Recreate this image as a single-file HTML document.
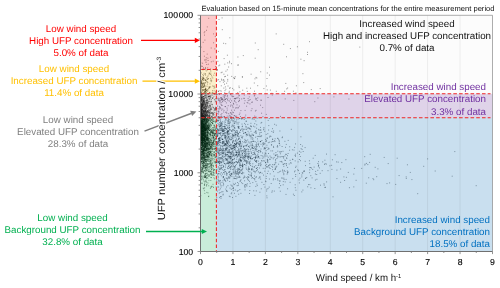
<!DOCTYPE html><html><head><meta charset="utf-8"><title>UFP vs wind speed</title><style>html,body{margin:0;padding:0;background:#fff}body{width:500px;height:288px;overflow:hidden}</style></head><body><svg width="500" height="288" viewBox="0 0 500 288" text-rendering="geometricPrecision" style="display:block;font-family:'Liberation Sans',Arial,sans-serif">
<rect width="500" height="288" fill="#fff"/>
<rect x="200.50" y="15.30" width="292.00" height="236.20" fill="#fcfcfc"/>
<path d="M200.5 141.1h.01M202.0 110.7h.01M201.8 129.7h.01M204.8 82.8h.01M202.7 144.8h.01M205.3 116.6h.01M200.8 125.1h.01M207.0 149.2h.01M202.9 100.9h.01M203.5 127.8h.01M202.9 146.7h.01M202.2 134.6h.01M201.0 105.5h.01M205.0 156.0h.01M200.6 96.9h.01M203.9 116.9h.01M207.0 139.8h.01M202.7 100.8h.01M209.8 99.7h.01M206.8 122.1h.01M209.5 133.4h.01M201.6 87.9h.01M206.7 102.6h.01M201.8 145.8h.01M201.3 130.9h.01M201.4 131.3h.01M212.7 147.2h.01M203.1 158.8h.01M200.7 107.5h.01M201.1 124.8h.01M207.9 133.4h.01M202.8 99.7h.01M205.3 143.5h.01M204.4 132.6h.01M205.7 127.5h.01M204.4 139.9h.01M200.7 128.0h.01M204.8 116.3h.01M203.3 130.2h.01M201.0 98.6h.01M201.0 141.1h.01M200.8 122.1h.01M206.5 161.7h.01M200.9 128.5h.01M207.1 148.2h.01M208.0 106.8h.01M204.7 116.6h.01M201.1 116.3h.01M203.6 90.6h.01M210.2 106.9h.01M204.2 116.6h.01M206.3 147.2h.01M200.9 154.4h.01M203.3 130.5h.01M201.4 134.0h.01M203.8 143.3h.01M200.8 131.8h.01M203.7 162.9h.01M207.5 103.3h.01M203.8 152.9h.01M201.5 140.4h.01M202.8 117.7h.01M201.1 158.5h.01M206.3 114.6h.01M203.3 110.6h.01M201.5 133.3h.01M204.9 153.1h.01M206.1 142.7h.01M206.9 170.6h.01M204.4 102.0h.01M203.6 129.4h.01M210.2 151.8h.01M202.8 147.0h.01M201.0 114.7h.01M206.6 102.0h.01M203.9 155.7h.01M202.1 139.5h.01M202.3 163.0h.01M201.7 113.8h.01M207.9 132.2h.01M202.6 78.8h.01M202.0 130.4h.01M202.2 136.9h.01M201.1 140.5h.01M201.5 109.6h.01M205.9 165.3h.01M200.6 110.2h.01M202.7 124.1h.01M206.2 143.5h.01M203.7 148.2h.01M200.6 103.7h.01M203.8 90.1h.01M202.2 137.0h.01M205.6 122.2h.01M200.5 87.9h.01M203.3 142.2h.01M206.8 139.1h.01M202.2 152.4h.01M208.7 139.0h.01M210.4 139.1h.01M202.0 136.2h.01M204.9 146.6h.01M201.3 158.1h.01M211.4 164.8h.01M204.5 150.9h.01M203.5 117.2h.01M201.5 137.3h.01M202.9 146.2h.01M201.4 113.6h.01M201.5 115.8h.01M203.9 145.7h.01M203.0 141.9h.01M205.5 119.2h.01M200.9 118.8h.01M200.7 142.3h.01M205.6 128.1h.01M201.8 128.2h.01M204.7 108.3h.01M205.2 149.6h.01M201.4 108.8h.01M200.9 117.5h.01M203.4 150.0h.01M201.1 104.4h.01M210.2 118.4h.01M206.0 159.4h.01M202.3 84.7h.01M210.9 160.6h.01M204.6 149.9h.01M209.0 142.7h.01M204.2 115.2h.01M204.6 119.7h.01M204.3 133.2h.01M201.1 97.4h.01M208.0 127.1h.01M206.6 104.0h.01M207.5 69.9h.01M200.8 122.2h.01M201.8 179.0h.01M201.3 135.9h.01M205.2 153.9h.01M205.8 131.3h.01M203.1 127.8h.01M200.7 150.4h.01M204.4 154.4h.01M203.5 135.5h.01M206.7 138.0h.01M206.6 186.0h.01M201.2 106.3h.01M205.2 131.8h.01M200.6 125.8h.01M203.9 124.7h.01M202.1 148.7h.01M203.2 130.9h.01M200.5 103.6h.01M202.3 105.6h.01M202.0 118.5h.01M207.2 140.2h.01M204.4 147.9h.01M208.5 107.4h.01M203.8 119.7h.01M205.6 141.4h.01M202.1 171.9h.01M207.3 152.3h.01M207.6 173.8h.01M201.5 100.3h.01M203.6 126.5h.01M209.1 151.4h.01M204.1 136.6h.01M200.6 65.3h.01M200.8 99.8h.01M204.2 158.3h.01M202.7 131.8h.01M203.1 154.6h.01M201.2 161.7h.01M205.9 129.6h.01M206.4 77.8h.01M207.0 99.8h.01M203.0 128.6h.01M201.9 135.5h.01M200.7 121.7h.01M202.6 106.7h.01M203.0 159.2h.01M203.6 168.4h.01M202.0 85.4h.01M201.2 121.0h.01M200.6 89.9h.01M206.2 128.7h.01M203.8 97.9h.01M202.4 141.1h.01M203.2 119.4h.01M207.2 100.0h.01M205.1 110.2h.01M205.2 141.8h.01M201.2 107.4h.01M203.1 143.3h.01M204.3 160.5h.01M204.5 120.5h.01M205.0 101.1h.01M202.7 110.8h.01M207.9 161.1h.01M206.6 115.2h.01M204.7 117.3h.01M202.9 138.8h.01M204.8 183.0h.01M209.6 114.7h.01M207.7 115.9h.01M206.1 122.9h.01M208.7 171.7h.01M204.5 162.2h.01M205.4 110.6h.01M200.6 108.3h.01M204.6 121.2h.01M208.5 140.9h.01M210.8 129.5h.01M201.8 138.8h.01M200.7 132.4h.01M201.7 145.4h.01M200.7 120.5h.01M204.7 140.4h.01M207.9 114.5h.01M201.3 111.4h.01M205.2 149.2h.01M208.5 93.7h.01M203.0 152.7h.01M200.8 116.5h.01M202.5 104.9h.01M205.3 104.0h.01M203.7 176.2h.01M205.4 110.6h.01M204.8 104.8h.01M201.5 94.8h.01M204.3 177.4h.01M202.2 142.4h.01M202.2 130.3h.01M210.4 146.7h.01M207.3 104.7h.01M204.8 146.0h.01M200.9 98.9h.01M200.6 113.6h.01M207.6 165.1h.01M202.7 149.7h.01M204.1 140.8h.01M200.9 124.2h.01M200.9 104.4h.01M201.9 131.7h.01M206.1 113.5h.01M200.6 158.4h.01M203.9 137.7h.01M210.1 127.4h.01M216.3 148.9h.01M203.1 150.6h.01M207.0 125.4h.01M200.7 81.1h.01M206.2 135.7h.01M205.1 147.3h.01M206.0 150.9h.01M201.3 81.2h.01M200.7 126.8h.01M200.8 112.8h.01M200.7 98.6h.01M204.4 107.6h.01M203.2 149.0h.01M201.5 106.3h.01M205.6 114.4h.01M203.0 119.0h.01M203.8 108.4h.01M205.8 144.8h.01M206.7 135.6h.01M201.2 137.6h.01M200.5 109.1h.01M206.9 147.9h.01M208.9 127.8h.01M207.6 157.7h.01M202.8 131.7h.01M204.3 138.7h.01M202.3 130.9h.01M213.2 136.7h.01M201.7 131.4h.01M200.8 130.6h.01M200.9 169.3h.01M205.7 108.5h.01M201.8 140.7h.01M201.4 132.1h.01M206.3 150.8h.01M202.1 106.2h.01M200.5 144.4h.01M207.9 124.5h.01M203.2 103.6h.01M202.4 91.1h.01M209.3 110.1h.01M208.1 122.2h.01M205.2 157.3h.01M205.0 103.2h.01M203.8 104.1h.01M201.0 108.1h.01M201.5 109.8h.01M201.7 125.9h.01M201.5 137.8h.01M200.8 102.0h.01M207.9 106.7h.01M203.2 151.3h.01M200.8 105.9h.01M203.3 124.7h.01M203.6 110.8h.01M208.3 129.7h.01M203.0 104.7h.01M200.8 103.3h.01M202.2 108.7h.01M205.9 161.6h.01M200.8 107.9h.01M204.8 130.6h.01M202.4 151.7h.01M201.6 111.8h.01M201.6 155.4h.01M201.0 106.6h.01M208.3 96.7h.01M201.6 137.5h.01M204.7 111.3h.01M204.8 122.0h.01M204.3 116.9h.01M203.3 157.5h.01M207.9 121.8h.01M202.0 124.9h.01M203.4 113.7h.01M201.4 126.5h.01M200.5 101.0h.01M205.3 126.3h.01M202.7 114.1h.01M210.3 106.3h.01M201.8 123.3h.01M201.5 104.9h.01M205.6 127.6h.01M202.1 116.5h.01M206.6 144.2h.01M205.9 115.9h.01M206.7 106.4h.01M204.9 133.1h.01M205.8 115.3h.01M207.9 125.6h.01M201.8 149.8h.01M203.2 121.8h.01M210.0 107.2h.01M201.5 136.5h.01M203.4 166.0h.01M207.1 129.6h.01M200.7 138.4h.01M207.7 91.0h.01M205.2 132.5h.01M205.1 131.7h.01M204.7 143.9h.01M203.0 123.6h.01M201.9 138.8h.01M201.5 145.0h.01M201.5 127.9h.01M201.9 143.8h.01M202.0 98.1h.01M200.7 149.0h.01M201.5 128.0h.01M200.9 139.6h.01M203.0 156.9h.01M209.6 98.7h.01M203.4 172.3h.01M200.8 92.9h.01M208.7 164.1h.01M202.4 126.0h.01M210.0 83.9h.01M207.4 177.4h.01M204.7 159.0h.01M203.9 101.1h.01M201.2 122.5h.01M208.8 146.6h.01M202.3 128.4h.01M203.8 149.6h.01M203.6 127.1h.01M211.5 104.3h.01M201.6 134.4h.01M204.3 127.7h.01M206.2 106.4h.01M200.8 79.9h.01M201.4 138.2h.01M206.1 126.4h.01M201.1 137.2h.01M206.1 145.8h.01M205.9 140.6h.01M205.7 145.1h.01M205.8 167.6h.01M202.8 169.0h.01M203.0 143.7h.01M201.1 123.2h.01M202.4 101.3h.01M202.2 138.3h.01M206.8 136.9h.01M207.5 120.2h.01M204.4 114.8h.01M201.4 128.7h.01M201.6 127.7h.01M205.4 89.4h.01M208.9 142.3h.01M204.3 140.5h.01M201.4 159.4h.01M202.4 118.8h.01M202.3 133.2h.01M205.5 88.6h.01M201.5 133.4h.01M206.4 115.6h.01M205.0 111.3h.01M204.4 93.8h.01M202.8 155.1h.01M209.7 101.3h.01M207.1 133.4h.01M203.4 131.5h.01M207.0 140.0h.01M202.4 135.9h.01M201.9 134.2h.01M206.0 180.0h.01M212.8 127.8h.01M201.4 125.0h.01M208.2 154.2h.01M203.7 131.0h.01M201.3 72.9h.01M208.6 127.3h.01M202.4 135.7h.01M205.3 93.4h.01M206.6 149.4h.01M205.7 135.4h.01M202.1 138.8h.01M205.6 136.9h.01M202.9 113.2h.01M202.7 116.2h.01M200.7 140.1h.01M203.1 131.6h.01M204.5 129.1h.01M202.0 135.6h.01M205.5 132.8h.01M206.8 148.1h.01M200.7 140.2h.01M204.8 130.3h.01M207.9 155.6h.01M200.5 116.2h.01M203.7 133.7h.01M205.3 150.5h.01M204.7 143.5h.01M203.0 138.6h.01M207.8 137.8h.01M204.3 128.3h.01M202.4 132.2h.01M201.6 144.3h.01M204.2 99.0h.01M203.4 110.0h.01M201.3 123.9h.01M203.4 109.1h.01M200.7 118.5h.01M205.8 137.7h.01M201.0 124.0h.01M200.8 62.9h.01M205.2 110.4h.01M204.9 109.0h.01M200.7 133.2h.01M208.9 123.0h.01M203.7 78.1h.01M205.8 123.6h.01M209.3 112.8h.01M200.8 98.1h.01M205.9 119.0h.01M207.9 99.9h.01M205.8 127.7h.01M204.1 120.1h.01M206.0 145.4h.01M202.3 66.4h.01M204.4 124.6h.01M204.0 128.0h.01M203.3 99.0h.01M204.2 140.3h.01M202.6 128.5h.01M205.2 147.6h.01M206.4 132.7h.01M209.4 143.9h.01M209.6 124.9h.01M202.1 130.1h.01M201.7 139.0h.01M200.7 131.1h.01M201.3 128.7h.01M200.7 135.7h.01M209.8 116.4h.01M205.6 118.1h.01M208.1 131.9h.01M205.4 156.0h.01M207.0 123.1h.01M204.1 156.2h.01M204.5 127.2h.01M205.2 130.8h.01M207.3 145.9h.01M202.2 144.5h.01M207.3 148.1h.01M214.2 93.3h.01M203.1 134.4h.01M205.7 136.6h.01M205.6 111.9h.01M205.7 123.8h.01M201.9 104.7h.01M207.8 159.3h.01M205.3 153.8h.01M207.2 54.1h.01M204.5 131.8h.01M202.5 134.0h.01M204.7 128.0h.01M209.7 115.3h.01M202.4 152.0h.01M200.7 119.4h.01M200.9 126.3h.01M201.0 111.7h.01M206.0 129.2h.01M200.8 136.2h.01M200.7 142.7h.01M206.8 182.4h.01M209.6 115.5h.01M201.2 155.6h.01M204.2 138.7h.01M200.8 88.9h.01M203.5 138.0h.01M204.1 117.8h.01M200.8 129.7h.01M205.6 117.7h.01M203.4 129.0h.01M201.0 136.1h.01M201.7 97.8h.01M201.4 131.8h.01M204.0 157.2h.01M205.1 138.3h.01M201.7 115.8h.01M203.2 151.5h.01M201.6 110.4h.01M200.5 109.0h.01M207.1 86.2h.01M200.8 138.4h.01M207.0 120.1h.01M203.5 163.1h.01M201.9 135.7h.01M210.6 135.0h.01M200.9 117.4h.01M201.2 127.4h.01M201.3 128.1h.01M202.6 140.6h.01M202.3 136.9h.01M205.3 125.7h.01M201.8 115.6h.01M203.2 116.0h.01M200.9 104.7h.01M206.4 107.8h.01M201.6 162.9h.01M201.2 136.6h.01M201.2 129.4h.01M202.6 141.3h.01M203.2 107.0h.01M208.6 119.8h.01M202.7 130.8h.01M201.7 124.6h.01M201.9 100.2h.01M202.4 135.0h.01M203.7 136.2h.01M201.8 108.0h.01M203.6 120.2h.01M202.6 97.7h.01M201.5 119.2h.01M207.9 119.1h.01M203.1 140.0h.01M206.2 151.7h.01M205.4 132.3h.01M201.6 179.8h.01M208.1 126.6h.01M205.1 111.2h.01M201.2 124.7h.01M212.8 143.1h.01M202.3 104.9h.01M207.8 135.5h.01M206.8 113.0h.01M203.6 80.5h.01M206.7 118.5h.01M202.3 108.2h.01M201.8 117.1h.01M209.0 130.7h.01M208.3 129.5h.01M201.0 124.5h.01M201.7 104.0h.01M206.6 165.6h.01M203.9 135.5h.01M202.6 114.7h.01M202.4 144.9h.01M201.0 128.0h.01M205.3 145.8h.01M204.3 121.7h.01M200.8 107.4h.01M204.1 99.0h.01M203.3 119.1h.01M205.7 146.7h.01M202.4 123.0h.01M202.0 115.8h.01M202.3 97.5h.01M205.4 174.7h.01M208.5 127.7h.01M203.3 165.7h.01M200.8 110.6h.01M202.0 118.4h.01M208.8 125.3h.01M202.3 109.4h.01M203.4 121.7h.01M204.7 144.1h.01M211.5 130.6h.01M202.1 102.1h.01M204.9 133.7h.01M202.4 127.5h.01M203.4 153.6h.01M200.6 100.5h.01M204.2 140.6h.01M213.9 154.2h.01M201.1 134.9h.01M203.1 146.3h.01M203.8 135.1h.01M208.8 108.3h.01M206.0 116.3h.01M202.0 96.8h.01M202.0 95.3h.01M204.3 148.5h.01M203.1 119.3h.01M200.7 92.9h.01M204.9 79.8h.01M210.0 164.7h.01M201.3 154.6h.01M200.7 115.8h.01M201.5 133.3h.01M207.0 153.6h.01M200.6 117.5h.01M207.7 150.2h.01M205.2 176.9h.01M201.4 127.0h.01M201.5 124.1h.01M204.3 117.7h.01M205.6 112.6h.01M207.8 131.1h.01M205.0 136.3h.01M202.1 141.0h.01M203.7 162.7h.01M207.9 143.5h.01M205.6 111.4h.01M202.9 115.5h.01M202.9 83.3h.01M202.8 131.8h.01M205.5 167.7h.01M201.7 109.8h.01M205.8 110.8h.01M204.9 154.8h.01M204.7 163.3h.01M201.5 123.7h.01M203.9 115.6h.01M203.8 152.4h.01M201.8 134.0h.01M205.0 147.1h.01M200.9 149.2h.01M202.2 154.1h.01M205.0 128.9h.01M203.6 137.3h.01M202.6 141.9h.01M206.4 185.1h.01M211.4 99.6h.01M210.2 155.7h.01M200.8 128.4h.01M201.6 149.5h.01M208.0 127.3h.01M201.1 156.2h.01M205.3 130.2h.01M201.1 129.9h.01M202.7 109.5h.01M204.5 153.0h.01M208.5 148.4h.01M207.5 139.2h.01M203.7 83.6h.01M204.2 160.1h.01M201.2 120.5h.01M201.5 140.0h.01M203.5 123.7h.01M202.1 114.5h.01M202.9 126.3h.01M204.8 126.4h.01M202.3 122.5h.01M205.5 144.1h.01M206.0 137.4h.01M200.6 158.4h.01M204.1 137.8h.01M202.2 143.4h.01M201.6 132.2h.01M203.9 115.3h.01M208.3 127.7h.01M205.5 123.0h.01M202.3 105.0h.01M212.8 186.4h.01M205.2 123.4h.01M201.0 126.8h.01M204.0 132.6h.01M210.5 163.3h.01M201.6 116.0h.01M202.3 104.0h.01M206.4 112.0h.01M202.9 130.9h.01M203.8 117.3h.01M203.0 110.1h.01M209.9 96.9h.01M208.8 109.9h.01M203.3 126.9h.01M203.8 128.7h.01M210.4 134.0h.01M203.6 125.7h.01M201.4 136.9h.01M202.6 112.8h.01M203.8 144.3h.01M202.2 144.1h.01M208.7 128.8h.01M202.3 139.8h.01M204.1 135.8h.01M202.1 169.3h.01M203.4 113.6h.01M202.2 128.3h.01M211.7 140.9h.01M206.4 124.3h.01M201.7 123.3h.01M205.9 147.0h.01M210.1 92.8h.01M200.6 134.6h.01M209.3 116.1h.01M204.9 91.8h.01M206.4 146.0h.01M202.9 127.5h.01M200.9 142.4h.01M210.2 115.2h.01M202.2 134.9h.01M207.9 157.0h.01M201.9 99.8h.01M201.0 107.2h.01M202.0 145.6h.01M200.9 101.0h.01M203.1 125.7h.01M203.5 67.9h.01M208.7 98.6h.01M200.6 136.7h.01M209.5 142.0h.01M210.1 154.6h.01M206.9 131.6h.01M203.9 129.8h.01M203.8 115.4h.01M207.5 133.2h.01M200.8 155.2h.01M200.8 142.2h.01M201.9 97.5h.01M200.9 101.9h.01M202.6 132.1h.01M200.9 128.9h.01M205.8 136.4h.01M202.3 128.1h.01M211.6 171.7h.01M200.8 107.4h.01M201.7 140.5h.01M203.1 126.7h.01M203.9 181.0h.01M205.9 128.5h.01M201.5 98.7h.01M205.0 176.5h.01M201.8 95.0h.01M201.1 116.9h.01M208.1 150.0h.01M203.8 162.1h.01M200.9 101.6h.01M203.0 124.3h.01M207.8 123.0h.01M210.0 142.5h.01M203.8 146.4h.01M203.1 111.5h.01M203.7 149.5h.01M203.5 111.3h.01M207.3 167.9h.01M208.2 153.9h.01M204.2 159.9h.01M201.9 100.0h.01M203.7 165.3h.01M203.1 152.3h.01M205.0 118.5h.01M210.6 133.0h.01M202.3 79.5h.01M207.8 94.7h.01M203.7 117.7h.01M202.3 114.3h.01M202.0 164.3h.01M208.2 153.1h.01M201.5 133.7h.01M208.0 138.9h.01M204.2 158.5h.01M205.0 150.6h.01M206.4 150.6h.01M202.6 106.6h.01M203.6 121.7h.01M210.1 143.9h.01M203.9 136.2h.01M201.0 120.6h.01M202.2 142.3h.01M201.0 131.7h.01M203.6 164.6h.01M200.7 112.0h.01M206.5 113.7h.01M202.6 121.5h.01M202.4 118.9h.01M202.5 121.4h.01M207.6 89.7h.01M201.3 122.8h.01M201.8 154.0h.01M201.5 148.1h.01M207.1 119.8h.01M208.5 113.3h.01M201.0 110.4h.01M206.4 116.3h.01M208.8 132.4h.01M201.9 157.5h.01M200.9 140.4h.01M204.0 166.9h.01M200.9 134.0h.01M203.6 157.6h.01M203.2 127.9h.01M204.0 134.4h.01M200.7 164.7h.01M205.3 117.3h.01M213.0 123.6h.01M205.4 160.4h.01M202.8 126.4h.01M204.6 116.9h.01M204.3 137.2h.01M206.1 115.6h.01M202.9 125.6h.01M200.6 103.2h.01M205.3 128.8h.01M205.2 135.8h.01M202.8 118.9h.01M210.7 121.6h.01M207.5 130.0h.01M202.5 137.9h.01M201.2 142.7h.01M201.4 134.7h.01M209.1 148.1h.01M202.8 125.2h.01M204.4 128.2h.01M203.2 131.7h.01M200.9 126.5h.01M204.8 128.7h.01M203.6 96.5h.01M203.3 104.5h.01M206.2 145.3h.01M204.4 123.1h.01M207.5 141.8h.01M201.6 129.6h.01M206.1 138.6h.01M202.8 142.1h.01M205.1 159.8h.01M203.4 179.7h.01M201.3 123.1h.01M212.6 114.2h.01M204.2 149.7h.01M202.9 119.4h.01M200.9 134.3h.01M202.1 122.8h.01M206.4 150.2h.01M202.9 134.3h.01M209.0 138.9h.01M201.9 175.8h.01M200.6 121.7h.01M201.0 129.6h.01M206.9 184.4h.01M202.0 115.0h.01M204.5 132.6h.01M205.9 129.4h.01M204.7 124.9h.01M210.7 146.5h.01M204.3 153.2h.01M201.7 137.0h.01M201.2 135.8h.01M209.2 86.7h.01M205.0 91.7h.01M201.0 136.7h.01M202.7 137.9h.01M204.1 124.9h.01M202.6 117.8h.01M202.0 142.4h.01M201.9 148.4h.01M201.1 83.9h.01M201.1 104.7h.01M206.1 165.1h.01M200.6 161.7h.01M204.8 149.0h.01M205.2 128.5h.01M201.7 116.7h.01M203.7 137.9h.01M205.7 166.1h.01M201.4 123.1h.01M205.7 121.0h.01M206.0 133.9h.01M211.8 149.1h.01M210.3 126.1h.01M201.6 129.1h.01M204.1 154.2h.01M201.1 125.2h.01M201.0 153.1h.01M208.0 115.6h.01M206.9 125.2h.01M205.6 153.6h.01M200.7 122.2h.01M207.4 108.4h.01M201.4 171.0h.01M203.8 134.0h.01M201.8 92.1h.01M204.1 163.0h.01M200.7 129.8h.01M202.9 158.8h.01M203.0 131.6h.01M210.9 187.1h.01M204.9 165.5h.01M203.9 142.3h.01M201.2 124.6h.01M200.8 118.9h.01M205.5 124.6h.01M202.7 105.0h.01M203.9 116.8h.01M201.4 112.2h.01M206.3 154.1h.01M207.3 138.5h.01M206.3 57.8h.01M203.6 79.0h.01M205.9 116.2h.01M206.6 119.0h.01M201.0 105.8h.01M206.8 143.0h.01M202.2 84.7h.01M205.0 140.5h.01M206.3 135.9h.01M202.6 79.7h.01M202.5 171.8h.01M204.0 124.0h.01M203.6 166.1h.01M202.2 142.3h.01M200.7 128.3h.01M203.1 137.5h.01M202.9 126.4h.01M200.8 142.4h.01M200.6 128.5h.01M203.3 154.7h.01M202.6 137.4h.01M205.9 162.2h.01M201.5 114.0h.01M204.8 159.0h.01M206.3 119.6h.01M203.4 139.1h.01M211.6 145.2h.01M204.5 106.4h.01M204.4 129.9h.01M202.0 167.5h.01M209.5 126.9h.01M208.8 196.2h.01M210.0 132.2h.01M205.2 141.3h.01M203.7 159.9h.01M204.3 130.3h.01M204.1 138.0h.01M200.8 80.8h.01M202.7 138.7h.01M203.7 86.8h.01M200.9 96.2h.01M205.5 145.9h.01M211.5 155.7h.01M203.6 101.8h.01M205.5 136.2h.01M205.2 129.7h.01M201.6 133.3h.01M204.8 157.5h.01M202.3 136.8h.01M204.9 152.5h.01M204.9 164.2h.01M208.1 142.2h.01M200.6 85.8h.01M202.9 93.6h.01M205.5 134.6h.01M201.2 124.5h.01M205.6 122.6h.01M200.6 96.1h.01M201.0 120.3h.01M203.3 140.4h.01M205.7 141.6h.01M202.2 104.0h.01M201.7 66.2h.01M201.3 140.4h.01M200.9 169.2h.01M204.9 115.1h.01M205.5 135.0h.01M202.4 126.4h.01M202.8 102.4h.01M204.5 130.8h.01M202.2 156.4h.01M202.4 169.9h.01M202.5 130.5h.01M210.3 162.0h.01M202.3 123.0h.01M209.1 163.4h.01M205.2 140.3h.01M203.7 161.6h.01M202.4 136.7h.01M202.6 138.8h.01M200.8 113.9h.01M200.7 96.6h.01M201.9 132.3h.01M209.3 155.0h.01M201.6 82.9h.01M211.3 131.1h.01M202.3 116.0h.01M204.0 118.5h.01M204.0 98.8h.01M201.6 105.8h.01M201.8 113.8h.01M207.5 118.9h.01M209.0 154.7h.01M205.7 146.1h.01M210.4 140.3h.01M205.2 131.0h.01M208.2 135.8h.01M205.6 127.0h.01M203.7 130.4h.01M207.2 144.0h.01M202.0 162.2h.01M202.1 110.5h.01M200.8 114.0h.01M203.3 148.7h.01M209.0 126.3h.01M201.4 119.3h.01M201.1 125.6h.01M205.2 171.1h.01M203.3 155.5h.01M201.7 140.5h.01M204.5 95.5h.01M200.7 144.2h.01M209.0 144.0h.01M210.2 160.8h.01M201.9 138.7h.01M204.8 125.2h.01M202.2 171.9h.01M204.4 190.7h.01M201.8 114.0h.01M207.2 134.4h.01M201.1 139.6h.01M212.4 118.3h.01M206.1 112.7h.01M205.9 177.2h.01M204.8 135.9h.01M202.5 104.8h.01M205.4 147.0h.01M204.5 138.6h.01M203.9 110.4h.01M204.8 138.0h.01M204.7 157.2h.01M202.3 143.3h.01M205.9 161.3h.01M208.0 124.1h.01M203.9 167.1h.01M211.4 116.8h.01M204.1 165.8h.01M203.6 129.9h.01M202.8 160.3h.01M209.6 143.9h.01M206.2 111.6h.01M206.1 109.2h.01M204.7 103.2h.01M206.1 135.9h.01M204.1 129.4h.01M205.1 128.0h.01M201.0 113.8h.01M208.3 144.5h.01M207.7 111.3h.01M212.2 132.5h.01M205.9 108.4h.01M201.8 118.1h.01M201.6 113.3h.01M201.3 142.6h.01M201.8 136.9h.01M201.5 154.7h.01M206.0 140.0h.01M210.9 142.1h.01M200.5 107.9h.01M204.0 157.6h.01M201.1 47.1h.01M201.6 130.4h.01M204.9 104.6h.01M203.6 108.0h.01M204.4 184.3h.01M202.2 134.3h.01M203.8 98.0h.01M210.4 188.4h.01M211.7 122.4h.01M207.6 154.6h.01M202.0 138.2h.01M212.7 135.0h.01M204.3 170.6h.01M201.6 123.8h.01M201.5 141.2h.01M203.1 145.9h.01M201.5 112.7h.01M203.2 42.3h.01M204.1 124.4h.01M202.4 117.4h.01M202.6 130.6h.01M206.4 149.3h.01M200.7 121.1h.01M204.9 98.2h.01M201.4 123.6h.01M205.6 114.0h.01M202.3 133.8h.01M203.0 69.9h.01M202.2 163.3h.01M200.8 114.1h.01M201.1 115.6h.01M202.0 123.0h.01M204.2 155.0h.01M205.8 157.4h.01M207.0 139.9h.01M200.7 124.4h.01M204.1 156.9h.01M202.9 152.2h.01M203.8 119.3h.01M201.3 104.8h.01M204.0 143.2h.01M206.1 148.6h.01M204.3 147.1h.01M211.6 80.1h.01M204.1 121.2h.01M210.3 139.5h.01M200.7 104.5h.01M205.7 79.5h.01M203.7 105.2h.01M207.0 164.8h.01M204.2 133.7h.01M209.2 145.6h.01M202.1 136.0h.01M200.5 151.6h.01M205.6 141.8h.01M212.4 162.3h.01M206.8 127.8h.01M201.2 126.5h.01M202.2 158.6h.01M203.5 166.6h.01M203.5 141.0h.01M205.7 119.7h.01M200.8 116.2h.01M205.1 134.5h.01M200.8 195.7h.01M201.0 137.5h.01M211.9 154.8h.01M204.6 139.5h.01M201.1 152.8h.01M201.3 136.7h.01M202.6 143.7h.01M205.6 68.2h.01M202.9 115.0h.01M204.5 136.4h.01M208.5 137.7h.01M205.0 135.5h.01M203.1 126.6h.01M200.7 135.2h.01M205.4 133.9h.01M202.3 106.7h.01M200.7 108.5h.01M203.0 123.8h.01M203.4 101.0h.01M201.7 123.7h.01M209.3 157.9h.01M206.1 170.7h.01M208.4 151.1h.01M211.1 140.2h.01M202.1 120.6h.01M201.6 104.4h.01M202.3 141.3h.01M204.4 149.1h.01M200.8 110.1h.01M200.5 100.2h.01M200.9 137.0h.01M209.6 130.5h.01M201.2 96.7h.01M204.7 125.8h.01M203.2 131.7h.01M201.6 171.6h.01M203.6 101.5h.01M204.9 118.9h.01M202.9 127.6h.01M205.0 142.7h.01M206.2 160.4h.01M206.0 136.3h.01M207.3 137.7h.01M201.2 103.3h.01M201.3 153.1h.01M204.5 99.9h.01M207.2 134.6h.01M201.5 101.7h.01M203.1 150.7h.01M202.3 122.0h.01M209.0 109.9h.01M204.8 130.4h.01M200.6 157.2h.01M204.8 139.7h.01M205.3 121.9h.01M200.9 156.2h.01M201.4 158.0h.01M204.5 127.5h.01M202.5 149.4h.01M201.7 113.7h.01M203.4 155.5h.01M209.0 175.4h.01M200.7 142.8h.01M207.8 102.3h.01M204.7 150.6h.01M207.6 135.9h.01M206.3 129.3h.01M206.9 154.8h.01M201.6 104.1h.01M207.9 132.4h.01M203.7 121.8h.01M206.6 169.9h.01M202.3 165.7h.01M203.8 188.8h.01M202.1 133.0h.01M201.9 133.4h.01M203.6 115.5h.01M206.3 100.8h.01M206.4 139.8h.01M206.3 140.0h.01M207.1 125.7h.01M203.7 96.7h.01M208.0 153.3h.01M201.1 114.0h.01M202.0 134.0h.01M202.4 136.3h.01M204.9 115.1h.01M202.3 145.6h.01M205.0 155.2h.01M207.5 121.4h.01M203.7 131.8h.01M201.6 133.6h.01M205.0 135.7h.01M205.7 123.1h.01M202.2 136.7h.01M212.5 123.2h.01M203.8 122.6h.01M202.7 96.4h.01M205.3 105.0h.01M201.5 109.2h.01M206.3 138.6h.01M202.9 127.6h.01M206.0 146.4h.01M210.4 69.0h.01M202.7 134.4h.01M206.5 122.7h.01M201.7 97.8h.01M202.6 158.0h.01M203.9 148.7h.01M204.3 140.3h.01M202.9 150.7h.01M205.0 159.2h.01M201.4 138.5h.01M204.3 103.1h.01M203.6 115.4h.01M202.1 128.2h.01M201.0 126.4h.01M214.2 175.4h.01M203.9 116.5h.01M207.2 126.3h.01M200.8 149.2h.01M201.1 122.9h.01M204.0 135.6h.01M204.9 143.4h.01M206.7 155.3h.01M202.1 142.9h.01M203.4 150.4h.01M203.1 120.5h.01M203.0 122.4h.01M203.3 123.8h.01M207.3 139.1h.01M202.5 138.0h.01M205.7 86.1h.01M207.9 174.6h.01M201.3 101.0h.01M207.7 128.3h.01M206.2 132.8h.01M207.5 146.1h.01M208.2 140.8h.01M204.6 157.0h.01M206.5 163.3h.01M203.4 133.0h.01M208.8 171.2h.01M205.4 115.0h.01M201.0 102.4h.01M200.9 159.1h.01M201.4 121.9h.01M203.1 125.8h.01M200.7 124.1h.01M208.3 127.3h.01M208.8 120.5h.01M201.8 109.4h.01M204.9 91.6h.01M201.4 127.1h.01M204.6 113.4h.01M200.8 160.3h.01M204.3 134.5h.01M208.2 161.5h.01M205.9 102.5h.01M203.4 75.5h.01M203.5 119.2h.01M201.4 154.6h.01M213.1 142.3h.01M204.2 131.1h.01M201.6 123.7h.01M208.1 111.9h.01M201.9 107.5h.01M201.8 183.2h.01M207.4 104.6h.01M207.5 145.7h.01M209.3 148.7h.01M200.6 94.4h.01M201.6 133.4h.01M208.4 164.7h.01M204.8 160.0h.01M213.7 139.1h.01M204.0 111.5h.01M206.7 100.6h.01M203.1 133.8h.01M205.3 142.7h.01M207.0 98.0h.01M206.5 143.9h.01M201.5 94.9h.01M201.9 123.4h.01M204.8 127.4h.01M202.5 134.2h.01M202.4 122.8h.01M204.2 141.3h.01M206.8 148.8h.01M200.8 129.3h.01M204.0 144.8h.01M206.9 128.3h.01M206.7 132.7h.01M202.9 135.3h.01M209.5 141.4h.01M207.1 139.7h.01M208.5 96.5h.01M201.4 127.7h.01M202.5 141.6h.01M210.3 144.0h.01M207.8 121.4h.01M203.8 135.3h.01M204.9 135.7h.01M201.6 133.1h.01M202.1 125.2h.01M208.8 128.3h.01M202.1 119.3h.01M206.1 167.9h.01M206.9 157.0h.01M202.1 183.3h.01M202.0 111.1h.01M207.2 110.6h.01M205.3 104.0h.01M203.1 127.2h.01M203.3 105.0h.01M203.6 131.7h.01M203.5 133.3h.01M203.3 162.4h.01M209.2 153.2h.01M202.0 140.9h.01M202.5 109.2h.01M203.3 92.6h.01M210.9 148.1h.01M201.9 120.4h.01M204.2 125.8h.01M208.2 152.1h.01M211.2 174.3h.01M213.2 155.7h.01M206.0 163.7h.01M205.2 139.4h.01M206.5 137.3h.01M205.3 136.8h.01M201.2 130.8h.01M206.2 123.7h.01M203.5 150.2h.01M204.0 112.0h.01M212.8 174.5h.01M214.3 139.4h.01M203.9 123.1h.01M209.3 153.6h.01M204.9 165.7h.01M207.6 121.9h.01M208.2 150.1h.01M208.1 119.1h.01M200.6 109.6h.01M206.4 134.4h.01M201.4 127.6h.01M211.2 117.0h.01M208.8 128.7h.01M200.9 146.2h.01M205.3 129.6h.01M201.3 115.6h.01M201.0 122.8h.01M209.9 133.7h.01M206.8 137.8h.01M200.7 128.9h.01M206.4 153.7h.01M204.3 161.5h.01M202.1 104.0h.01M204.9 145.8h.01M206.5 129.8h.01M201.9 159.5h.01M206.9 131.6h.01M201.1 144.2h.01M208.4 64.2h.01M204.2 152.8h.01M201.6 147.9h.01M204.9 112.0h.01M206.1 108.9h.01M206.5 178.0h.01M207.6 130.2h.01M212.0 120.2h.01M202.9 155.2h.01M204.0 116.8h.01M203.9 142.3h.01M202.1 149.4h.01M204.4 139.2h.01M201.9 138.0h.01M201.9 157.1h.01M203.5 78.5h.01M203.3 140.0h.01M202.5 144.8h.01M208.9 118.3h.01M202.7 131.1h.01M207.4 105.8h.01M201.2 132.9h.01M205.2 125.6h.01M201.0 125.1h.01M202.7 126.2h.01M207.4 139.7h.01M204.5 134.2h.01M205.1 94.9h.01M204.1 145.7h.01M208.8 148.0h.01M204.6 139.4h.01M202.2 116.8h.01M207.6 127.2h.01M207.9 115.6h.01M207.8 163.4h.01M203.7 125.7h.01M214.0 144.3h.01M213.4 146.2h.01M208.2 132.8h.01M205.5 174.0h.01M201.3 121.8h.01M201.5 124.9h.01M201.0 156.4h.01M207.7 137.7h.01M203.8 96.5h.01M202.8 137.8h.01M201.6 115.4h.01M206.3 138.9h.01M200.9 143.5h.01M211.9 158.2h.01M204.0 139.7h.01M201.8 99.5h.01M209.8 120.0h.01M206.6 149.1h.01M207.0 113.2h.01M205.1 135.5h.01M203.1 144.5h.01M200.8 117.6h.01M205.6 152.2h.01M202.2 161.2h.01M203.0 101.5h.01M202.9 167.5h.01M204.2 120.2h.01M203.7 162.4h.01M203.3 131.1h.01M204.9 136.7h.01M201.9 137.5h.01M201.0 171.9h.01M205.5 135.6h.01M213.4 141.0h.01M204.6 150.7h.01M200.7 127.8h.01M201.3 106.0h.01M204.7 147.1h.01M204.9 127.3h.01M205.4 156.8h.01M202.4 121.2h.01M202.6 115.9h.01M204.1 73.3h.01M202.4 109.7h.01M201.5 118.6h.01M206.4 103.1h.01M208.5 156.8h.01M203.0 106.7h.01M209.2 148.2h.01M204.4 144.6h.01M207.7 111.8h.01M201.7 123.2h.01M204.0 102.1h.01M213.7 170.0h.01M206.5 128.7h.01M206.2 144.8h.01M208.8 142.1h.01M202.5 168.4h.01M204.2 111.4h.01M206.7 130.2h.01M203.8 151.2h.01M202.5 156.9h.01M204.8 150.2h.01M203.9 100.2h.01M203.6 132.8h.01M201.2 134.0h.01M201.2 116.8h.01M202.8 129.3h.01M207.6 130.5h.01M210.4 122.0h.01M206.3 127.1h.01M204.1 112.5h.01M202.3 153.2h.01M200.9 125.3h.01M203.2 137.4h.01M202.6 127.0h.01M208.9 137.3h.01M204.2 144.4h.01M215.0 148.1h.01M209.7 116.8h.01M205.5 144.2h.01M202.3 154.2h.01M201.1 114.2h.01M207.3 114.0h.01M206.4 139.5h.01M201.3 124.5h.01M207.8 152.5h.01M201.5 131.5h.01M202.6 105.1h.01M201.1 109.6h.01M202.7 126.2h.01M208.2 141.3h.01M205.0 165.5h.01M204.9 125.6h.01M206.8 124.7h.01M203.8 108.0h.01M201.0 80.6h.01M213.4 131.9h.01M200.5 105.1h.01M205.8 155.9h.01M202.7 102.9h.01M208.2 117.0h.01M206.1 103.5h.01M205.8 118.8h.01M207.7 125.7h.01M201.1 93.8h.01M208.2 149.1h.01M202.1 114.6h.01M204.9 108.6h.01M200.8 142.0h.01M206.7 157.4h.01M205.2 123.3h.01M200.5 122.9h.01M200.7 113.1h.01M201.1 112.8h.01M203.4 145.5h.01M210.2 130.2h.01M200.5 101.0h.01M206.2 140.5h.01M202.9 135.0h.01M204.1 153.8h.01M203.7 112.9h.01M201.2 82.4h.01M203.8 158.2h.01M200.6 109.4h.01M208.9 116.7h.01M207.0 145.5h.01M204.5 138.8h.01M202.9 150.3h.01M202.4 144.2h.01M206.6 130.3h.01M203.8 116.5h.01M200.6 123.0h.01M211.1 119.5h.01M203.8 126.2h.01M202.3 151.8h.01M204.2 98.8h.01M202.5 102.8h.01M204.8 145.9h.01M200.9 86.1h.01M201.3 116.8h.01M210.3 134.4h.01M201.4 83.3h.01M201.9 178.1h.01M202.7 161.2h.01M208.7 120.6h.01M202.3 133.0h.01M200.7 144.6h.01M201.0 92.7h.01M206.2 122.9h.01M203.7 155.8h.01M206.6 146.9h.01M201.6 108.9h.01M207.0 93.9h.01M204.0 170.9h.01M203.1 123.9h.01M205.9 140.4h.01M202.4 163.5h.01M202.0 130.8h.01M201.6 159.3h.01M205.7 143.4h.01M211.5 101.8h.01M204.6 120.4h.01M205.5 115.6h.01M205.9 120.0h.01M204.8 123.9h.01M204.7 110.3h.01M202.0 151.0h.01M204.9 138.7h.01M201.1 107.7h.01M202.5 142.9h.01M204.1 139.3h.01M201.2 99.7h.01M208.7 101.3h.01M202.1 139.8h.01M203.7 146.3h.01M200.8 113.1h.01M205.1 125.9h.01M201.8 140.7h.01M204.8 118.6h.01M204.6 119.2h.01M201.5 124.9h.01M206.0 62.4h.01M203.0 98.8h.01M201.4 108.9h.01M205.6 109.9h.01M204.6 60.0h.01M203.0 105.0h.01M211.1 151.8h.01M202.5 121.3h.01M203.1 127.3h.01M203.2 140.6h.01M201.3 120.7h.01M203.7 124.4h.01M201.4 127.4h.01M210.5 146.6h.01M201.5 108.7h.01M207.5 166.5h.01M201.8 109.3h.01M203.4 129.1h.01M207.5 128.4h.01M201.1 174.0h.01M200.8 87.6h.01M201.7 161.8h.01M211.0 154.6h.01M204.8 117.4h.01M202.4 140.1h.01M202.6 136.4h.01M201.7 172.1h.01M201.6 135.4h.01M202.5 123.5h.01M206.7 118.8h.01M205.0 137.1h.01M201.9 122.5h.01M201.2 116.7h.01M202.3 141.3h.01M203.3 144.3h.01M204.6 86.0h.01M200.8 142.4h.01M206.2 105.7h.01M205.6 130.5h.01M207.9 101.7h.01M204.6 143.8h.01M202.7 117.3h.01M204.3 123.5h.01M207.6 138.7h.01M208.9 128.8h.01M206.8 148.9h.01M202.5 129.5h.01M202.1 135.4h.01M203.0 112.3h.01M201.0 127.3h.01M210.9 165.3h.01M202.9 136.0h.01M207.4 135.9h.01M203.7 148.0h.01M202.5 98.5h.01M206.1 124.0h.01M207.2 115.5h.01M205.4 147.3h.01M200.6 132.8h.01M203.4 107.2h.01M203.2 158.1h.01M205.3 123.9h.01M204.4 128.6h.01M205.0 141.4h.01M202.7 126.3h.01M210.4 158.5h.01M206.5 128.3h.01M202.9 153.2h.01M204.3 156.4h.01M202.2 96.3h.01M205.5 146.1h.01M202.2 170.5h.01M205.6 110.8h.01M201.2 141.5h.01M206.6 134.2h.01M201.0 105.4h.01M207.5 126.6h.01M201.3 87.1h.01M200.9 127.9h.01M205.0 118.5h.01M201.9 147.5h.01M204.3 126.9h.01M206.9 99.1h.01M203.7 118.8h.01M202.2 124.0h.01M201.9 167.2h.01M211.2 144.9h.01M201.0 151.8h.01M203.7 112.8h.01M204.2 145.3h.01M200.9 117.7h.01M212.1 158.2h.01M203.8 86.6h.01M203.7 153.5h.01M204.7 128.0h.01M209.5 73.3h.01M203.9 125.3h.01M201.7 144.4h.01M204.4 117.4h.01M205.0 109.6h.01M203.5 110.4h.01M211.4 177.6h.01M204.5 126.1h.01M203.9 173.4h.01M201.8 83.4h.01M205.5 130.3h.01M206.3 142.1h.01M208.9 120.8h.01M203.9 119.5h.01M208.9 159.5h.01M206.2 95.9h.01M205.9 137.2h.01M204.5 166.6h.01M206.1 101.2h.01M204.7 96.3h.01M201.3 98.1h.01M207.2 121.9h.01M207.4 152.1h.01M205.3 111.1h.01M203.8 87.0h.01M211.6 119.7h.01M200.9 88.9h.01M203.6 145.3h.01M204.4 108.0h.01M209.3 115.1h.01M202.9 158.9h.01M206.4 166.2h.01M202.3 142.3h.01M207.2 131.8h.01M202.9 118.7h.01M204.3 134.8h.01M205.4 133.0h.01M201.2 128.0h.01M205.9 130.3h.01M202.3 115.0h.01M204.2 119.5h.01M201.9 128.0h.01M201.0 119.9h.01M206.1 141.6h.01M204.0 112.5h.01M208.1 144.8h.01M202.5 90.3h.01M204.9 131.4h.01M202.7 122.2h.01M205.5 147.3h.01M203.2 135.8h.01M205.1 127.8h.01M205.0 130.7h.01M205.7 144.7h.01M211.0 160.8h.01M205.5 130.8h.01M204.0 126.6h.01M202.0 115.1h.01M207.3 105.8h.01M207.0 139.7h.01M206.1 173.5h.01M202.3 130.3h.01M202.3 165.5h.01M211.7 163.9h.01M204.2 107.3h.01M206.3 120.3h.01M205.7 145.1h.01M203.8 142.6h.01M200.9 126.9h.01M208.0 170.5h.01M209.5 125.3h.01M204.7 137.9h.01M201.7 84.0h.01M201.5 147.9h.01M207.4 111.5h.01M202.7 142.1h.01M205.4 109.0h.01M204.1 150.1h.01M206.0 116.2h.01M204.2 139.1h.01M202.3 144.3h.01M209.7 138.9h.01M202.0 116.7h.01M201.0 116.7h.01M211.4 101.2h.01M202.3 109.3h.01M204.5 184.9h.01M204.1 138.1h.01M206.3 173.7h.01M206.0 140.1h.01M206.4 119.1h.01M203.3 156.4h.01M203.6 153.6h.01M201.4 122.8h.01M200.6 130.4h.01M205.3 95.2h.01M203.3 121.9h.01M210.4 124.9h.01M202.6 87.5h.01M202.5 137.9h.01M201.8 126.6h.01M202.0 147.4h.01M206.5 127.2h.01M203.4 105.9h.01M201.4 95.0h.01M203.7 130.0h.01M207.2 148.1h.01M206.3 148.3h.01M202.3 156.1h.01M205.2 128.6h.01M200.8 94.2h.01M205.7 180.9h.01M205.5 176.7h.01M208.1 102.5h.01M201.9 160.1h.01M205.8 124.8h.01M205.5 157.6h.01M202.0 109.7h.01M206.0 114.9h.01M200.6 120.8h.01M206.3 114.3h.01M204.6 129.3h.01M204.0 117.4h.01M203.0 85.9h.01M202.4 102.9h.01M201.6 139.8h.01M201.6 142.7h.01M205.3 136.2h.01M203.0 132.9h.01M208.9 133.4h.01M201.0 137.6h.01M205.3 117.0h.01M200.9 124.1h.01M201.7 118.4h.01M210.4 135.9h.01M202.0 113.3h.01M206.7 157.5h.01M204.0 93.3h.01M202.0 119.3h.01M211.0 126.8h.01M201.5 112.5h.01M205.0 106.7h.01M205.4 115.1h.01M202.2 121.9h.01M203.8 132.9h.01M209.3 169.2h.01M203.9 124.7h.01M203.4 135.1h.01M202.0 133.0h.01M205.5 73.6h.01M200.6 162.8h.01M201.8 125.0h.01M211.8 109.8h.01M203.4 107.3h.01M203.1 100.2h.01M202.6 153.8h.01M207.0 152.8h.01M207.7 120.1h.01M201.8 132.3h.01M205.4 91.5h.01M207.4 128.3h.01M203.0 123.8h.01M204.5 120.4h.01M201.7 131.5h.01M200.8 121.9h.01M200.9 138.6h.01M200.5 124.6h.01M205.9 141.6h.01M201.1 119.4h.01M201.2 154.6h.01M201.8 157.1h.01M202.2 116.6h.01M204.9 125.4h.01M202.9 147.7h.01M200.8 129.0h.01M203.3 149.9h.01M201.1 76.8h.01M203.5 160.9h.01M210.3 96.0h.01M207.0 149.7h.01M202.7 118.2h.01M200.8 129.7h.01M211.2 144.2h.01M202.1 105.6h.01M200.9 106.5h.01M202.0 132.2h.01M202.0 145.1h.01M207.4 84.1h.01M200.6 91.9h.01M210.7 132.9h.01M204.8 136.3h.01M203.9 122.6h.01M205.4 129.0h.01M209.3 107.8h.01M202.1 146.4h.01M200.8 123.7h.01M205.0 146.6h.01M206.6 102.5h.01M205.9 89.4h.01M202.2 128.4h.01M207.3 121.1h.01M201.2 92.8h.01M201.0 130.7h.01M202.2 145.9h.01M203.8 105.6h.01M202.4 115.8h.01M204.1 133.5h.01M203.1 94.4h.01M207.9 128.3h.01M209.9 172.2h.01M201.1 117.2h.01M202.5 128.2h.01M202.9 83.6h.01M205.1 130.8h.01M201.2 129.2h.01M205.6 121.5h.01M203.9 123.6h.01M201.0 153.7h.01M201.3 122.4h.01M202.3 133.4h.01M201.7 93.7h.01M208.1 75.9h.01M203.4 151.4h.01M201.9 146.0h.01M201.2 142.4h.01M205.3 144.2h.01M206.4 146.2h.01M205.8 130.0h.01M204.3 105.0h.01M208.0 160.5h.01M207.4 164.9h.01M204.1 167.4h.01M206.2 106.9h.01M203.6 98.3h.01M202.9 159.4h.01M208.2 167.6h.01M200.7 121.1h.01M206.7 107.7h.01M206.4 109.2h.01M205.0 126.0h.01M203.8 113.8h.01M200.8 117.2h.01M203.6 139.9h.01M204.5 84.9h.01M202.1 126.3h.01M200.7 147.1h.01M204.5 139.3h.01M209.0 166.4h.01M203.7 128.1h.01M205.9 106.7h.01M200.5 149.9h.01M204.0 103.6h.01M202.8 77.8h.01M209.4 126.5h.01M207.2 156.7h.01M203.1 145.5h.01M200.9 131.3h.01M206.7 158.8h.01M201.7 151.6h.01M201.2 130.2h.01M213.7 141.6h.01M201.0 111.2h.01M210.7 160.7h.01M203.8 84.9h.01M201.0 100.8h.01M206.6 112.3h.01M204.7 143.4h.01M202.3 86.1h.01M202.2 133.4h.01M201.3 82.6h.01M204.8 106.0h.01M204.3 148.0h.01M203.1 137.2h.01M202.9 83.7h.01M207.2 110.3h.01M204.3 132.6h.01M203.7 124.1h.01M208.4 129.5h.01M200.8 140.2h.01M204.0 133.1h.01M202.3 140.3h.01M201.7 134.4h.01M205.9 121.2h.01M206.9 152.2h.01M205.9 115.2h.01M201.6 123.1h.01M209.0 117.6h.01M205.6 111.2h.01M205.3 102.3h.01M208.8 120.4h.01M201.9 110.4h.01M206.6 135.7h.01M203.5 115.8h.01M201.4 143.9h.01M200.5 128.7h.01M202.6 110.4h.01M207.9 134.4h.01M205.1 120.6h.01M206.9 154.3h.01M206.1 100.3h.01M207.1 144.5h.01M202.2 117.8h.01M203.7 129.0h.01M212.0 116.0h.01M204.4 137.4h.01M201.3 145.7h.01M202.8 166.8h.01M210.8 142.2h.01M201.2 149.6h.01M204.2 117.5h.01M201.0 91.4h.01M205.6 177.2h.01M204.2 156.1h.01M202.4 120.0h.01M203.2 99.9h.01M202.7 120.5h.01M208.6 127.0h.01M204.7 118.8h.01M204.4 116.9h.01M203.1 89.6h.01M202.9 113.9h.01M207.6 158.9h.01M200.6 133.6h.01M209.5 130.3h.01M205.1 147.3h.01M201.7 131.1h.01M207.2 143.6h.01M202.2 141.0h.01M203.0 112.3h.01M207.6 141.1h.01M203.7 151.4h.01M200.5 138.5h.01M202.2 125.6h.01M204.1 78.8h.01M206.3 126.1h.01M200.8 90.0h.01M208.9 123.5h.01M201.0 169.4h.01M200.6 115.6h.01M203.7 146.3h.01M205.4 159.0h.01M207.2 155.2h.01M209.6 93.0h.01M207.0 165.5h.01M208.1 146.5h.01M203.4 102.0h.01M202.3 111.9h.01M206.1 167.3h.01M205.6 133.2h.01M208.9 145.1h.01M205.0 134.4h.01M202.0 109.4h.01M205.6 143.0h.01M202.1 133.0h.01M210.2 101.8h.01M203.3 166.5h.01M203.1 135.6h.01M206.6 121.8h.01M210.7 161.9h.01M204.1 142.2h.01M211.2 163.7h.01M201.1 121.3h.01M201.2 137.8h.01M209.8 117.7h.01M202.1 103.4h.01M200.6 122.7h.01M203.4 136.1h.01M208.2 128.1h.01M200.8 122.9h.01M205.6 156.4h.01M203.0 103.5h.01M201.9 121.2h.01M200.9 106.8h.01M200.6 152.4h.01M205.0 110.7h.01M206.4 81.7h.01M207.2 119.2h.01M206.2 162.0h.01M205.1 129.7h.01M201.0 125.7h.01M204.2 124.6h.01M201.6 130.4h.01M202.8 116.6h.01M204.1 138.9h.01M201.9 121.1h.01M205.3 145.1h.01M203.2 125.9h.01M201.6 103.3h.01M208.1 144.0h.01M204.2 114.6h.01M201.2 143.6h.01M202.5 134.8h.01M206.2 136.6h.01M203.9 100.5h.01M214.2 154.4h.01M200.7 96.3h.01M207.6 163.9h.01M205.7 134.5h.01M212.6 116.9h.01M203.0 112.4h.01M200.9 145.5h.01M201.7 151.5h.01M202.2 107.0h.01M203.6 155.1h.01M206.8 119.6h.01M205.3 141.7h.01M208.1 134.0h.01M205.0 74.5h.01M201.8 90.1h.01M206.1 113.0h.01M204.0 158.0h.01M205.1 123.5h.01M203.9 127.9h.01M202.8 129.5h.01M200.7 93.6h.01M206.1 167.8h.01M206.8 125.5h.01M202.8 124.7h.01M203.5 144.2h.01M203.2 87.6h.01M202.8 154.1h.01M207.9 132.9h.01M202.9 125.9h.01M204.7 176.1h.01M203.2 158.2h.01M209.2 155.2h.01M209.7 117.7h.01M206.7 111.2h.01M201.8 112.9h.01M201.9 120.9h.01M205.2 177.0h.01M209.6 130.5h.01M202.4 137.7h.01M203.8 102.4h.01M202.9 96.8h.01M207.7 79.5h.01M207.5 117.5h.01M201.8 107.9h.01M201.7 147.6h.01M204.0 127.5h.01M204.3 155.7h.01M206.0 111.6h.01M203.1 153.2h.01M200.5 128.4h.01M201.4 142.6h.01M207.4 143.0h.01M201.8 116.1h.01M204.8 142.2h.01M201.3 120.5h.01M209.6 156.3h.01M203.5 96.5h.01M202.0 140.0h.01M208.4 111.3h.01M207.4 81.9h.01M208.7 185.8h.01M204.0 150.2h.01M204.2 133.9h.01M200.8 97.8h.01M203.5 138.9h.01M200.9 116.5h.01M207.3 148.5h.01M203.8 116.7h.01M202.2 152.3h.01M204.4 111.2h.01M204.8 193.4h.01M205.5 171.1h.01M206.0 88.8h.01M207.3 129.4h.01M207.4 152.1h.01M202.8 74.5h.01M213.0 114.0h.01M205.3 105.3h.01M205.1 139.7h.01M201.7 112.3h.01M205.9 120.5h.01M201.8 161.3h.01M201.6 112.8h.01M203.9 133.1h.01M209.9 106.0h.01M209.8 105.4h.01M202.4 140.7h.01M202.1 139.5h.01M203.3 124.3h.01M201.2 110.7h.01M204.8 139.1h.01M201.2 127.8h.01M202.5 113.8h.01M203.9 120.0h.01M210.4 109.4h.01M207.7 128.4h.01M211.6 155.7h.01M205.3 168.4h.01M205.4 113.0h.01M207.4 140.4h.01M201.1 132.5h.01M204.5 136.2h.01M203.4 162.0h.01M205.2 139.3h.01M204.4 185.3h.01M201.1 133.7h.01M209.8 154.6h.01M201.3 81.7h.01M200.9 115.0h.01M203.9 133.9h.01M204.0 126.0h.01M209.7 119.1h.01M206.4 148.4h.01M205.6 136.4h.01M204.4 137.6h.01M206.3 70.9h.01M210.7 134.8h.01M202.1 168.7h.01M204.0 111.6h.01M202.6 63.2h.01M205.7 152.0h.01M204.9 40.1h.01M207.6 134.9h.01M207.4 110.6h.01M200.8 136.8h.01M203.6 134.8h.01M204.1 156.0h.01M208.1 156.6h.01M205.6 177.3h.01M206.2 105.9h.01M202.3 151.7h.01M204.2 121.7h.01M201.0 117.8h.01M201.5 139.8h.01M205.3 130.2h.01M208.3 136.3h.01M205.1 141.5h.01M207.6 132.6h.01M210.1 134.8h.01M203.7 151.0h.01M206.3 160.0h.01M203.0 146.4h.01M200.9 122.3h.01M201.9 94.2h.01M205.8 97.2h.01M205.3 124.4h.01M201.0 103.5h.01M202.1 124.2h.01M205.7 106.2h.01M202.4 124.6h.01M201.8 117.7h.01M205.5 137.6h.01M200.5 124.4h.01M202.0 81.0h.01M201.1 151.1h.01M201.3 125.7h.01M203.8 142.0h.01M202.5 105.5h.01M204.1 86.3h.01M203.6 135.9h.01M206.8 192.4h.01M208.7 121.1h.01M202.4 113.6h.01M202.5 163.8h.01M201.3 131.0h.01M202.7 129.3h.01M203.0 178.0h.01M204.3 114.9h.01M201.4 116.1h.01M206.2 127.1h.01M207.0 156.0h.01M205.4 146.7h.01M203.3 142.4h.01M204.5 119.8h.01M204.1 151.0h.01M206.0 97.6h.01M201.6 117.8h.01M204.4 177.2h.01M202.3 87.1h.01M204.2 126.6h.01M201.4 137.9h.01M201.4 123.7h.01M200.7 164.1h.01M203.2 124.6h.01M201.0 147.3h.01M209.7 104.0h.01M201.7 97.0h.01M206.0 139.6h.01M201.8 147.6h.01M202.4 106.2h.01M201.4 127.1h.01M201.1 121.0h.01M203.2 114.6h.01M203.3 152.2h.01M205.0 113.1h.01M206.3 178.3h.01M200.6 90.0h.01M205.2 165.3h.01M201.7 140.2h.01M200.9 139.6h.01M201.3 109.4h.01M202.8 111.2h.01M204.5 122.6h.01M201.7 114.4h.01M203.8 119.2h.01M204.3 131.9h.01M208.6 176.4h.01M201.9 176.8h.01M201.9 176.8h.01M207.6 135.2h.01M205.8 137.2h.01M203.1 131.8h.01M202.4 122.9h.01M212.0 142.9h.01M202.4 149.5h.01M203.2 161.5h.01M201.3 167.3h.01M207.4 105.5h.01M207.0 112.7h.01M202.5 157.3h.01M202.4 133.8h.01M201.7 116.9h.01M206.2 94.6h.01M207.5 147.2h.01M202.1 123.6h.01M207.6 107.2h.01M204.9 168.9h.01M206.1 148.6h.01M214.3 140.3h.01M204.8 146.8h.01M203.4 77.2h.01M204.7 111.2h.01M217.3 136.1h.01M203.4 150.2h.01M201.4 106.4h.01M205.2 117.4h.01M203.5 140.7h.01M203.4 138.8h.01M201.5 158.4h.01M203.7 131.5h.01M207.5 114.4h.01M205.7 109.1h.01M202.7 115.4h.01M207.3 115.1h.01M208.4 147.9h.01M206.8 143.8h.01M204.2 102.3h.01M206.3 123.0h.01M201.3 143.6h.01M201.6 115.6h.01M200.9 106.6h.01M201.4 110.4h.01M203.0 126.6h.01M202.4 139.3h.01M204.7 122.2h.01M201.7 86.1h.01M201.9 124.1h.01M201.0 140.4h.01M202.6 120.9h.01M204.5 157.7h.01M201.8 122.1h.01M201.9 133.9h.01M202.4 106.0h.01M207.7 132.3h.01M204.9 107.2h.01M205.6 75.2h.01M203.8 134.8h.01M202.5 146.4h.01M208.6 125.1h.01M205.1 133.7h.01M203.0 125.9h.01M204.5 144.1h.01M206.3 120.6h.01M204.1 129.0h.01M201.7 173.8h.01M202.4 133.2h.01M202.6 121.0h.01M202.0 100.1h.01M204.2 143.1h.01M200.6 142.6h.01M203.3 102.8h.01M200.7 138.6h.01M202.7 126.4h.01M205.8 122.1h.01M201.3 109.7h.01M202.2 127.7h.01M201.8 151.2h.01M204.2 107.5h.01M203.1 138.6h.01M212.6 149.9h.01M202.0 78.6h.01M202.1 107.7h.01M202.3 151.0h.01M213.0 149.3h.01M201.1 131.4h.01M203.9 146.6h.01M207.2 175.6h.01M201.7 108.9h.01M204.3 113.2h.01M201.6 121.5h.01M201.3 135.2h.01M203.2 124.8h.01M200.8 111.2h.01M207.1 156.6h.01M201.6 134.1h.01M204.3 142.9h.01M210.1 121.1h.01M203.9 124.7h.01M201.8 155.4h.01M206.3 146.5h.01M205.5 89.9h.01M208.6 156.5h.01M205.8 129.4h.01M201.1 139.7h.01M201.8 98.2h.01M201.4 128.0h.01M202.0 137.0h.01M201.5 152.2h.01M204.3 136.2h.01M210.7 118.6h.01M203.8 115.1h.01M210.4 165.6h.01M200.8 88.8h.01M200.5 130.5h.01M208.7 158.4h.01M203.8 127.6h.01M204.7 144.9h.01M201.0 138.5h.01M208.6 149.3h.01M209.6 138.5h.01M206.4 144.2h.01M205.5 169.3h.01M202.6 117.1h.01M202.5 139.8h.01M205.0 104.2h.01M204.0 118.7h.01M203.4 116.0h.01M204.5 127.3h.01M204.2 100.7h.01M201.0 133.2h.01M207.6 156.1h.01M205.6 125.0h.01M203.3 188.2h.01M200.8 133.8h.01M202.4 123.7h.01M209.7 145.6h.01M204.3 101.9h.01M203.2 113.8h.01M200.7 123.1h.01M203.4 138.4h.01M205.0 106.8h.01M200.8 140.4h.01M200.6 134.4h.01M200.6 108.6h.01M203.9 117.3h.01M202.8 79.8h.01M206.0 137.7h.01M202.7 169.4h.01M201.2 111.9h.01M200.7 96.6h.01M203.0 132.9h.01M205.4 95.8h.01M205.1 89.6h.01M202.3 142.7h.01M204.8 142.0h.01M201.1 153.3h.01M206.6 121.8h.01M200.6 109.5h.01M210.6 124.0h.01M207.0 160.7h.01M201.0 142.7h.01M206.2 164.1h.01M201.5 161.6h.01M204.8 160.7h.01M210.7 171.6h.01M202.9 133.2h.01M208.1 126.1h.01M203.2 115.7h.01M202.4 129.0h.01M209.8 151.3h.01M205.6 133.0h.01M211.4 125.5h.01M200.8 132.4h.01M202.2 127.1h.01M202.5 135.3h.01M210.9 149.1h.01M202.6 128.1h.01M208.6 159.9h.01M209.8 112.9h.01M206.2 167.0h.01M203.3 119.7h.01M211.9 167.8h.01M202.6 93.6h.01M201.4 107.4h.01M205.9 150.5h.01M203.1 139.2h.01M203.4 154.2h.01M204.0 132.1h.01M203.0 120.5h.01M209.2 73.1h.01M210.4 166.7h.01M202.2 99.7h.01M203.5 142.6h.01M202.1 122.3h.01M208.1 115.6h.01M207.1 122.5h.01M202.9 120.1h.01M203.0 133.8h.01M200.8 126.3h.01M206.0 130.0h.01M202.8 101.7h.01M202.9 160.8h.01M203.4 140.6h.01M205.8 159.7h.01M201.6 148.0h.01M205.1 149.3h.01M205.7 107.9h.01M202.7 77.2h.01M200.6 94.3h.01M207.0 159.7h.01M201.1 124.9h.01M204.2 155.5h.01M203.9 121.0h.01M201.1 97.2h.01M204.5 118.5h.01M205.0 112.6h.01M204.0 134.1h.01M203.4 172.2h.01M206.2 175.9h.01M202.0 130.1h.01M202.0 115.3h.01M201.1 97.3h.01M204.2 138.6h.01M202.6 127.4h.01M201.3 121.3h.01M207.9 111.1h.01M207.8 136.7h.01M201.8 151.0h.01M208.3 111.0h.01M200.7 116.9h.01M202.4 120.2h.01M204.8 159.1h.01M201.9 128.1h.01M212.3 175.6h.01M201.7 170.4h.01M206.3 138.8h.01M206.9 143.5h.01M202.5 116.3h.01M202.0 94.5h.01M215.1 141.4h.01M205.4 90.2h.01M204.5 144.1h.01M204.4 114.4h.01M205.3 159.5h.01M208.7 133.3h.01M200.7 132.7h.01M205.1 136.7h.01M204.1 118.0h.01M202.2 168.6h.01M205.6 130.4h.01M202.4 146.0h.01M207.0 131.9h.01M202.3 119.8h.01M201.4 135.0h.01M204.5 139.5h.01M202.6 153.6h.01M202.5 116.6h.01M208.1 149.9h.01M205.9 123.5h.01M209.1 166.8h.01M207.9 103.6h.01M201.6 149.2h.01M203.5 103.8h.01M203.6 139.9h.01M206.5 121.8h.01M202.1 131.2h.01M201.2 111.6h.01M204.4 131.3h.01M203.6 101.2h.01M206.2 118.6h.01M205.4 117.5h.01M205.9 93.9h.01M202.3 143.4h.01M203.5 100.2h.01M202.5 127.2h.01M201.0 158.0h.01M204.6 121.1h.01M206.6 138.3h.01M201.1 86.8h.01M201.3 137.3h.01M205.9 132.2h.01M201.5 122.2h.01M200.7 166.5h.01M202.5 117.6h.01M202.4 149.9h.01M207.4 102.2h.01M200.8 86.8h.01M202.6 129.1h.01M201.9 161.6h.01M205.7 129.1h.01M206.3 129.9h.01M207.8 119.2h.01M201.7 133.8h.01M202.7 154.5h.01M210.8 140.8h.01M203.5 150.0h.01M204.8 90.0h.01M204.4 146.5h.01M204.6 145.6h.01M207.7 136.1h.01M213.2 165.9h.01M202.1 137.7h.01M204.0 133.8h.01M203.2 140.3h.01M209.3 141.9h.01M201.9 99.4h.01M206.4 124.3h.01M205.5 161.3h.01M207.3 143.8h.01M207.4 118.2h.01M207.7 148.9h.01M203.0 127.8h.01M201.6 128.0h.01M201.3 115.3h.01M203.8 134.5h.01M208.0 138.4h.01M203.7 148.8h.01M203.0 121.6h.01M202.3 148.3h.01M205.6 92.0h.01M203.0 129.9h.01M204.1 135.8h.01M206.2 115.9h.01M203.0 131.3h.01M211.1 136.2h.01M203.0 130.7h.01M201.1 142.1h.01M204.8 151.6h.01M205.2 147.2h.01M203.5 104.5h.01M208.4 149.1h.01M202.9 138.1h.01M206.3 143.2h.01M204.5 116.1h.01M203.2 82.4h.01M201.9 147.6h.01M204.4 119.4h.01M215.8 138.5h.01M204.3 137.7h.01M204.0 119.8h.01M204.9 159.0h.01M203.6 111.8h.01M205.7 128.2h.01M203.1 150.9h.01M205.8 95.9h.01M203.7 111.5h.01M201.5 100.7h.01M205.4 163.6h.01M207.4 140.6h.01M207.1 145.6h.01M202.7 115.3h.01M200.8 94.8h.01M205.5 173.3h.01M205.6 132.4h.01M202.2 131.0h.01M203.8 108.0h.01M207.5 135.8h.01M211.6 165.5h.01M206.3 137.8h.01M201.5 149.3h.01M206.2 150.0h.01M202.3 127.7h.01M204.2 141.4h.01M246.4 145.6h.01M218.5 180.0h.01M211.1 81.7h.01M218.4 111.2h.01M238.4 133.5h.01M290.1 182.3h.01M294.3 195.5h.01M242.3 169.1h.01M208.1 140.4h.01M244.4 103.2h.01M260.7 129.9h.01M230.4 159.2h.01M242.0 124.1h.01M277.6 138.3h.01M219.6 142.6h.01M205.3 104.7h.01M240.6 142.8h.01M210.1 151.2h.01M275.3 179.1h.01M217.1 144.8h.01M238.4 127.3h.01M216.7 170.4h.01M209.7 171.1h.01M223.2 131.3h.01M232.4 105.9h.01M202.9 138.7h.01M212.1 122.5h.01M222.2 99.0h.01M210.3 168.2h.01M230.0 171.3h.01M239.4 100.2h.01M211.3 144.2h.01M289.2 164.0h.01M260.1 150.5h.01M272.6 139.2h.01M295.5 143.9h.01M222.6 141.6h.01M242.2 157.7h.01M224.0 145.7h.01M215.0 134.1h.01M247.8 124.4h.01M257.5 151.6h.01M257.1 118.2h.01M283.8 174.7h.01M232.4 135.5h.01M206.0 92.0h.01M258.7 129.4h.01M215.1 133.5h.01M254.0 171.2h.01M214.1 155.3h.01M255.4 156.9h.01M214.7 133.7h.01M275.2 163.0h.01M211.4 169.2h.01M242.6 166.5h.01M215.4 129.5h.01M212.0 120.0h.01M216.2 171.1h.01M248.5 159.6h.01M211.6 173.9h.01M205.6 144.9h.01M214.8 48.9h.01M219.6 141.4h.01M208.1 142.8h.01M226.2 159.6h.01M258.9 178.2h.01M256.3 190.9h.01M227.4 147.1h.01M208.5 141.7h.01M268.6 130.0h.01M246.9 186.1h.01M220.5 132.8h.01M253.5 126.2h.01M222.9 191.7h.01M240.9 135.7h.01M213.6 174.0h.01M233.3 136.0h.01M271.8 131.4h.01M225.7 145.6h.01M210.7 131.5h.01M202.5 143.5h.01M204.1 124.7h.01M213.6 114.0h.01M223.7 149.1h.01M242.5 153.5h.01M235.8 139.9h.01M216.8 121.1h.01M230.9 185.0h.01M225.6 144.0h.01M231.7 163.2h.01M218.2 130.1h.01M246.4 129.6h.01M216.5 134.7h.01M244.6 123.4h.01M326.6 181.9h.01M270.2 164.8h.01M251.6 173.0h.01M235.7 147.3h.01M248.3 150.0h.01M222.2 148.9h.01M210.3 163.1h.01M231.1 149.0h.01M260.0 163.4h.01M206.6 120.6h.01M214.3 146.0h.01M229.2 119.5h.01M253.2 148.5h.01M253.7 190.8h.01M249.7 155.9h.01M218.3 177.8h.01M241.5 129.1h.01M300.6 144.5h.01M233.1 148.5h.01M236.5 138.9h.01M271.2 183.5h.01M213.5 187.5h.01M267.5 166.9h.01M223.0 150.6h.01M220.2 180.4h.01M219.0 140.5h.01M250.0 145.9h.01M217.3 125.8h.01M245.8 118.4h.01M227.9 127.1h.01M225.7 154.2h.01M234.5 145.9h.01M227.2 131.8h.01M240.2 172.8h.01M230.6 116.3h.01M253.2 134.9h.01M208.4 140.5h.01M239.8 163.7h.01M238.5 65.0h.01M209.7 118.0h.01M233.2 126.4h.01M235.5 108.0h.01M204.4 109.2h.01M205.9 128.7h.01M226.5 129.0h.01M233.9 168.8h.01M203.1 113.7h.01M213.6 172.5h.01M217.6 131.4h.01M222.3 130.6h.01M218.6 181.0h.01M233.7 104.2h.01M238.5 174.8h.01M254.3 132.3h.01M210.1 148.3h.01M225.3 137.7h.01M242.8 164.6h.01M252.2 101.9h.01M251.0 131.3h.01M206.2 90.4h.01M207.6 117.3h.01M225.5 128.5h.01M219.1 138.7h.01M309.7 169.9h.01M227.1 131.3h.01M286.8 158.6h.01M229.4 149.9h.01M241.0 179.8h.01M243.8 157.0h.01M228.6 131.9h.01M215.9 150.8h.01M224.7 136.3h.01M275.5 160.8h.01M207.7 156.6h.01M214.7 159.3h.01M227.2 163.0h.01M231.3 153.6h.01M228.4 152.1h.01M202.5 102.9h.01M237.7 172.9h.01M207.8 178.3h.01M220.5 126.0h.01M240.4 159.4h.01M238.8 151.6h.01M260.5 105.2h.01M230.7 112.6h.01M266.9 145.2h.01M211.5 116.4h.01M235.1 145.2h.01M220.4 119.2h.01M222.4 158.4h.01M254.2 167.3h.01M298.4 170.6h.01M364.7 156.7h.01M239.3 114.6h.01M201.0 138.8h.01M231.4 119.9h.01M207.7 137.9h.01M222.6 117.5h.01M221.0 150.7h.01M229.5 123.7h.01M252.6 154.7h.01M242.1 155.9h.01M257.8 154.2h.01M207.9 131.2h.01M266.8 166.8h.01M229.7 178.0h.01M228.2 105.7h.01M221.1 152.5h.01M302.9 190.1h.01M216.7 197.6h.01M215.0 199.7h.01M246.7 163.8h.01M228.6 113.7h.01M210.3 171.5h.01M236.1 155.2h.01M214.6 178.9h.01M250.6 129.0h.01M207.6 126.3h.01M229.7 138.4h.01M225.6 112.3h.01M254.1 119.4h.01M228.1 121.1h.01M240.8 161.9h.01M228.8 176.8h.01M221.3 168.4h.01M211.5 175.0h.01M238.0 108.1h.01M228.7 150.1h.01M265.8 153.2h.01M216.7 136.5h.01M230.3 99.0h.01M238.7 161.1h.01M218.7 112.2h.01M221.9 135.6h.01M222.8 147.1h.01M237.3 191.2h.01M279.4 143.4h.01M240.4 165.4h.01M207.4 143.8h.01M213.4 133.8h.01M226.9 142.7h.01M246.0 126.6h.01M232.7 162.3h.01M243.7 146.4h.01M215.2 133.8h.01M328.0 170.7h.01M222.5 126.7h.01M207.1 139.1h.01M228.8 117.2h.01M287.5 172.2h.01M212.9 169.2h.01M242.8 150.6h.01M238.9 122.3h.01M276.4 167.1h.01M235.5 161.9h.01M251.1 159.0h.01M235.0 143.7h.01M239.7 152.7h.01M213.3 131.9h.01M211.0 173.8h.01M233.4 112.6h.01M228.0 131.5h.01M231.2 166.3h.01M263.9 129.0h.01M209.1 125.6h.01M227.3 110.1h.01M260.1 177.0h.01M209.5 96.5h.01M212.8 137.3h.01M204.8 175.1h.01M243.5 133.5h.01M238.4 155.2h.01M207.1 155.3h.01M259.8 158.2h.01M219.1 190.0h.01M221.3 128.4h.01M239.0 153.4h.01M247.9 156.7h.01M212.3 104.9h.01M233.3 146.2h.01M226.0 160.4h.01M270.2 173.9h.01M215.0 141.1h.01M269.6 137.0h.01M205.0 143.7h.01M242.5 172.2h.01M274.9 141.6h.01M244.4 148.8h.01M265.8 156.0h.01M255.4 111.0h.01M207.5 160.0h.01M216.7 136.4h.01M261.3 188.8h.01M233.7 154.0h.01M225.1 130.2h.01M270.9 136.4h.01M239.1 176.9h.01M210.2 117.6h.01M229.6 127.5h.01M220.2 145.3h.01M212.0 76.9h.01M223.0 143.5h.01M219.5 163.8h.01M227.2 134.9h.01M225.8 189.1h.01M221.0 104.3h.01M218.9 117.1h.01M227.5 154.6h.01M224.1 129.1h.01M227.4 132.4h.01M226.5 98.6h.01M213.6 152.1h.01M231.8 176.4h.01M210.8 180.5h.01M240.1 155.5h.01M280.6 185.6h.01M225.4 148.6h.01M229.0 136.0h.01M304.5 171.2h.01M225.5 167.1h.01M210.8 109.4h.01M236.5 152.4h.01M212.8 133.3h.01M243.8 129.4h.01M209.4 163.7h.01M229.9 167.5h.01M233.8 89.9h.01M258.8 156.9h.01M237.0 171.5h.01M210.4 142.1h.01M232.4 160.0h.01M229.6 174.7h.01M274.1 164.9h.01M220.2 142.8h.01M222.9 143.8h.01M237.7 136.2h.01M223.1 185.7h.01M211.5 169.5h.01M215.2 122.1h.01M230.3 156.4h.01M227.2 116.1h.01M212.5 131.5h.01M223.1 177.8h.01M229.1 133.1h.01M203.5 151.0h.01M206.8 127.6h.01M203.7 101.2h.01M205.4 80.5h.01M231.9 148.2h.01M230.0 129.7h.01M204.6 124.3h.01M243.9 132.9h.01M227.7 154.4h.01M235.4 141.0h.01M235.9 137.1h.01M216.5 156.8h.01M271.3 142.0h.01M212.6 112.9h.01M219.6 140.3h.01M202.1 132.2h.01M245.4 158.0h.01M216.2 137.4h.01M278.0 138.4h.01M273.6 131.0h.01M202.6 138.2h.01M223.6 166.2h.01M226.6 163.7h.01M219.1 117.4h.01M212.3 133.2h.01M220.6 135.1h.01M227.6 133.8h.01M225.5 135.5h.01M221.5 145.9h.01M235.2 171.2h.01M221.9 158.1h.01M265.1 153.1h.01M214.0 130.5h.01M225.3 153.2h.01M237.0 157.4h.01M239.6 118.6h.01M266.6 164.4h.01M217.1 135.2h.01M250.6 158.3h.01M225.6 165.0h.01M204.5 163.0h.01M247.1 162.1h.01M208.5 152.5h.01M217.8 120.1h.01M237.2 173.8h.01M216.9 151.0h.01M212.5 123.6h.01M237.8 150.8h.01M251.6 141.8h.01M216.3 121.7h.01M220.2 183.0h.01M234.7 156.8h.01M227.6 167.8h.01M221.6 110.1h.01M281.6 161.4h.01M220.8 130.4h.01M212.7 98.2h.01M219.4 150.7h.01M234.0 145.5h.01M214.9 130.8h.01M211.9 143.4h.01M206.6 104.2h.01M292.4 149.8h.01M238.6 126.4h.01M209.6 135.0h.01M237.0 155.7h.01M235.3 155.6h.01M256.7 160.5h.01M211.8 172.5h.01M256.7 146.1h.01M245.1 133.0h.01M209.7 136.3h.01M229.7 157.4h.01M230.6 145.3h.01M232.6 141.7h.01M203.0 121.6h.01M231.1 105.0h.01M219.5 163.0h.01M245.5 142.7h.01M230.2 130.1h.01M216.5 139.0h.01M211.5 142.4h.01M221.2 167.6h.01M231.7 160.2h.01M224.9 127.5h.01M207.6 100.6h.01M270.1 168.5h.01M246.0 140.6h.01M227.3 133.0h.01M230.1 122.8h.01M238.3 143.1h.01M230.9 136.2h.01M222.4 121.8h.01M254.5 176.0h.01M223.2 142.5h.01M221.0 185.4h.01M227.2 191.3h.01M224.3 163.6h.01M229.7 181.5h.01M361.7 168.4h.01M217.8 116.8h.01M236.3 154.8h.01M247.1 153.8h.01M207.3 138.8h.01M221.6 149.3h.01M206.9 130.6h.01M215.0 132.3h.01M207.1 143.4h.01M230.2 164.2h.01M216.5 151.6h.01M251.3 135.8h.01M221.0 152.9h.01M219.5 106.8h.01M216.4 145.7h.01M213.4 107.7h.01M251.5 176.2h.01M208.2 149.4h.01M257.0 144.2h.01M222.5 131.7h.01M208.8 138.7h.01M227.9 98.1h.01M215.8 138.8h.01M215.3 133.9h.01M258.8 164.9h.01M239.9 113.1h.01M201.2 107.1h.01M222.2 133.4h.01M222.0 182.4h.01M217.8 132.4h.01M269.4 164.9h.01M212.7 130.0h.01M212.9 118.4h.01M228.6 163.0h.01M253.8 148.4h.01M207.2 114.5h.01M222.1 139.4h.01M220.3 150.5h.01M239.5 171.9h.01M299.5 173.4h.01M244.9 177.0h.01M218.0 117.4h.01M213.6 136.9h.01M201.6 152.1h.01M226.9 145.3h.01M246.7 177.6h.01M216.8 111.2h.01M270.1 136.0h.01M209.6 167.0h.01M252.7 166.8h.01M236.4 143.6h.01M216.3 148.7h.01M251.8 169.4h.01M210.2 147.4h.01M212.4 143.3h.01M233.0 159.5h.01M283.0 156.6h.01M247.3 155.8h.01M215.4 156.1h.01M274.1 157.4h.01M310.9 187.8h.01M232.0 114.3h.01M227.9 185.7h.01M211.0 139.1h.01M210.7 129.9h.01M207.4 125.3h.01M211.2 132.0h.01M206.0 104.3h.01M220.3 169.6h.01M213.9 140.8h.01M218.7 138.3h.01M234.5 158.7h.01M210.3 149.2h.01M214.1 110.5h.01M227.7 161.9h.01M309.6 172.7h.01M246.1 156.6h.01M203.7 134.3h.01M241.1 146.1h.01M236.4 152.8h.01M220.5 133.8h.01M212.4 135.5h.01M232.7 136.4h.01M282.1 137.7h.01M249.5 168.9h.01M219.9 102.9h.01M219.7 153.2h.01M237.7 134.2h.01M235.9 144.6h.01M264.6 161.0h.01M226.4 190.6h.01M221.7 105.1h.01M215.9 156.3h.01M219.2 161.2h.01M214.8 116.5h.01M213.4 137.6h.01M205.4 88.1h.01M215.3 101.8h.01M236.1 132.7h.01M255.8 148.5h.01M224.2 126.5h.01M280.1 181.0h.01M268.5 153.5h.01M203.3 126.4h.01M229.5 157.0h.01M228.7 140.2h.01M240.3 180.6h.01M257.3 136.4h.01M218.9 111.2h.01M251.8 178.2h.01M204.3 127.8h.01M240.5 116.5h.01M208.9 126.9h.01M208.8 157.0h.01M248.6 171.6h.01M214.9 121.5h.01M240.9 110.6h.01M224.5 169.9h.01M232.1 146.2h.01M219.4 161.0h.01M205.2 137.8h.01M261.0 149.0h.01M261.1 155.6h.01M228.7 161.6h.01M224.3 95.4h.01M214.2 143.0h.01M211.7 141.8h.01M211.4 113.3h.01M207.8 134.5h.01M223.6 148.9h.01M259.8 136.6h.01M218.3 166.8h.01M236.4 132.1h.01M237.9 126.6h.01M214.2 125.5h.01M242.4 153.8h.01M225.0 144.9h.01M269.2 187.1h.01M263.8 157.8h.01M221.6 136.6h.01M221.7 123.0h.01M279.0 156.9h.01M211.9 146.3h.01M287.1 174.1h.01M262.4 156.0h.01M218.5 138.8h.01M224.6 116.6h.01M248.9 151.6h.01M209.8 146.9h.01M211.4 140.1h.01M249.1 161.5h.01M233.9 152.9h.01M235.9 196.3h.01M324.9 187.4h.01M231.7 173.7h.01M218.7 131.0h.01M253.7 154.5h.01M241.1 146.6h.01M218.3 114.1h.01M211.9 159.7h.01M237.0 123.9h.01M219.3 133.3h.01M213.8 154.2h.01M215.6 107.2h.01M265.9 181.7h.01M223.3 170.4h.01M231.9 151.8h.01M207.1 125.6h.01M208.2 139.1h.01M204.7 175.3h.01M228.8 152.9h.01M215.7 142.4h.01M203.1 69.0h.01M305.1 147.6h.01M227.9 143.0h.01M213.9 162.0h.01M253.1 146.1h.01M236.1 173.7h.01M234.7 143.5h.01M270.9 150.9h.01M222.7 153.3h.01M245.5 145.8h.01M212.5 145.5h.01M210.0 148.5h.01M210.8 103.0h.01M232.4 134.4h.01M227.2 152.6h.01M217.6 160.1h.01M235.9 144.5h.01M256.6 142.9h.01M207.6 116.2h.01M241.6 118.9h.01M250.9 143.1h.01M234.1 172.4h.01M239.4 106.1h.01M221.3 116.1h.01M209.3 118.3h.01M256.6 128.2h.01M213.8 170.2h.01M240.4 157.5h.01M268.7 165.8h.01M255.9 130.7h.01M231.2 173.3h.01M231.3 154.2h.01M256.7 124.8h.01M263.7 143.7h.01M211.2 145.7h.01M207.0 91.2h.01M234.1 177.0h.01M240.4 140.0h.01M227.6 151.0h.01M228.4 134.5h.01M219.2 149.0h.01M231.7 165.7h.01M206.2 128.9h.01M238.7 177.3h.01M250.9 141.8h.01M239.3 156.1h.01M211.2 117.8h.01M218.9 153.0h.01M232.4 162.2h.01M224.5 135.5h.01M232.1 120.0h.01M234.5 193.3h.01M211.2 135.4h.01M237.2 135.3h.01M309.8 184.6h.01M219.7 163.7h.01M214.6 126.4h.01M233.5 165.9h.01M230.1 161.0h.01M252.2 119.0h.01M241.9 169.8h.01M253.0 169.8h.01M219.6 197.6h.01M251.3 174.1h.01M244.3 176.1h.01M261.0 123.1h.01M266.2 134.4h.01M213.4 165.3h.01M211.7 93.2h.01M218.0 123.6h.01M267.3 159.7h.01M234.1 130.3h.01M207.5 126.7h.01M223.2 162.1h.01M206.6 169.8h.01M295.6 176.4h.01M240.7 149.9h.01M209.6 144.0h.01M236.4 164.6h.01M324.9 160.2h.01M237.5 171.8h.01M208.0 116.0h.01M220.4 154.6h.01M244.8 148.7h.01M282.8 178.1h.01M247.1 151.7h.01M242.6 166.6h.01M210.8 173.4h.01M245.2 151.4h.01M275.6 159.4h.01M213.7 121.8h.01M213.5 133.6h.01M213.1 160.1h.01M236.5 161.9h.01M283.9 178.2h.01M267.8 133.7h.01M244.2 119.5h.01M235.3 131.8h.01M206.8 127.8h.01M222.8 130.5h.01M227.7 135.0h.01M279.2 187.7h.01M228.5 166.0h.01M260.0 132.6h.01M238.3 124.0h.01M244.1 145.8h.01M220.0 150.4h.01M207.4 142.5h.01M249.7 163.1h.01M258.4 171.9h.01M204.3 170.7h.01M218.6 138.9h.01M225.9 155.8h.01M245.7 155.6h.01M208.8 97.2h.01M300.3 156.5h.01M224.0 161.0h.01M239.0 137.0h.01M227.6 180.2h.01M261.6 135.7h.01M246.8 146.1h.01M257.9 157.9h.01M221.0 130.0h.01M236.7 117.3h.01M244.6 160.5h.01M315.4 180.0h.01M251.2 110.7h.01M228.6 146.0h.01M273.3 132.5h.01M217.8 158.2h.01M239.1 141.4h.01M237.4 162.8h.01M220.7 128.4h.01M224.0 151.2h.01M240.2 164.0h.01M206.3 98.7h.01M231.3 139.6h.01M203.5 171.9h.01M202.9 134.1h.01M255.8 171.4h.01M226.8 173.7h.01M246.8 163.4h.01M236.7 159.2h.01M267.1 156.0h.01M224.6 163.4h.01M218.6 187.0h.01M222.3 156.7h.01M203.7 111.4h.01M247.8 179.5h.01M204.0 117.6h.01M238.3 139.4h.01M246.0 160.5h.01M209.3 130.0h.01M210.3 152.8h.01M208.1 143.7h.01M212.1 159.8h.01M221.0 132.6h.01M215.2 110.1h.01M218.3 158.7h.01M212.3 112.4h.01M286.0 194.4h.01M228.3 166.5h.01M216.0 162.0h.01M210.4 98.2h.01M239.4 162.3h.01M228.1 128.5h.01M249.5 193.5h.01M226.9 143.3h.01M244.9 139.4h.01M215.8 141.8h.01M204.6 187.9h.01M216.5 137.7h.01M210.9 120.3h.01M211.4 108.8h.01M244.1 142.6h.01M237.1 185.7h.01M228.8 151.3h.01M218.1 120.5h.01M240.6 167.4h.01M223.3 131.3h.01M230.8 157.9h.01M245.7 149.4h.01M221.1 125.7h.01M219.0 159.8h.01M256.5 98.7h.01M219.6 139.4h.01M225.5 137.4h.01M256.3 168.3h.01M222.5 142.8h.01M218.0 148.7h.01M279.5 183.6h.01M241.6 182.7h.01M211.4 132.2h.01M227.8 148.2h.01M223.0 195.0h.01M267.9 162.3h.01M205.3 133.9h.01M205.8 120.0h.01M239.7 176.3h.01M216.1 128.6h.01M214.0 146.4h.01M207.1 145.0h.01M267.6 159.3h.01M261.0 136.6h.01M223.0 131.3h.01M215.9 121.7h.01M242.4 165.0h.01M252.5 158.7h.01M234.1 174.0h.01M225.3 158.2h.01M209.8 145.2h.01M230.9 157.7h.01M299.5 154.5h.01M212.5 130.0h.01M206.2 117.0h.01M223.8 141.8h.01M256.0 133.0h.01M258.7 152.4h.01M218.0 118.9h.01M217.7 129.9h.01M271.6 144.9h.01M231.1 148.8h.01M248.7 177.3h.01M224.5 178.9h.01M245.1 110.4h.01M229.0 137.7h.01M265.0 148.0h.01M213.2 142.9h.01M208.8 145.6h.01M239.2 87.6h.01M203.6 153.7h.01M238.2 150.7h.01M257.8 155.3h.01M238.5 173.9h.01M230.5 175.9h.01M243.0 165.4h.01M230.3 154.8h.01M207.0 144.5h.01M225.3 126.3h.01M212.6 163.6h.01M272.6 150.9h.01M246.2 121.1h.01M224.4 124.1h.01M235.2 173.6h.01M269.4 142.2h.01M213.8 129.3h.01M294.5 171.8h.01M259.1 130.2h.01M211.5 146.7h.01M219.9 140.6h.01M233.4 171.1h.01M240.3 143.0h.01M256.6 162.4h.01M219.6 155.1h.01M213.0 115.5h.01M227.2 141.1h.01M213.4 170.8h.01M219.5 126.3h.01M210.1 119.0h.01M312.1 177.9h.01M244.7 159.2h.01M225.8 144.3h.01M245.4 156.4h.01M227.1 143.1h.01M216.2 127.3h.01M240.0 160.4h.01M209.0 87.7h.01M214.5 155.1h.01M252.8 163.8h.01M230.5 102.5h.01M248.0 103.1h.01M234.5 147.5h.01M208.5 139.7h.01M219.2 168.7h.01M255.7 131.6h.01M224.9 141.1h.01M248.3 169.2h.01M228.4 137.1h.01M209.5 105.9h.01M251.1 138.9h.01M221.2 91.1h.01M275.1 138.8h.01M224.2 134.6h.01M217.1 142.6h.01M219.4 129.7h.01M233.7 120.9h.01M204.3 112.5h.01M219.6 117.7h.01M202.4 124.0h.01M252.1 137.6h.01M228.3 118.5h.01M251.3 156.0h.01M279.6 181.0h.01M215.9 101.5h.01M252.7 141.5h.01M213.0 148.5h.01M203.2 124.9h.01M238.6 154.8h.01M213.6 175.2h.01M286.2 164.1h.01M244.6 180.8h.01M203.5 125.9h.01M227.3 148.6h.01M216.3 116.2h.01M246.7 154.0h.01M222.3 135.3h.01M262.1 161.0h.01M243.0 158.6h.01M308.5 184.6h.01M238.4 127.9h.01M216.4 137.8h.01M225.9 159.1h.01M214.0 135.6h.01M210.2 146.0h.01M231.7 163.7h.01M239.9 144.4h.01M221.0 114.6h.01M228.2 152.5h.01M211.4 167.9h.01M215.6 153.8h.01M218.2 98.9h.01M204.2 148.0h.01M216.6 115.1h.01M209.9 142.0h.01M219.0 124.9h.01M203.2 131.9h.01M235.4 183.3h.01M260.8 162.8h.01M223.2 94.7h.01M236.2 151.7h.01M227.4 133.1h.01M244.0 157.9h.01M226.6 148.9h.01M206.0 126.5h.01M279.6 151.9h.01M205.6 80.6h.01M239.4 150.0h.01M245.8 155.1h.01M207.6 148.8h.01M217.9 174.0h.01M219.8 181.7h.01M227.8 130.9h.01M245.0 189.9h.01M207.7 103.4h.01M221.8 123.6h.01M248.1 157.9h.01M251.0 175.8h.01M253.3 152.6h.01M245.7 150.8h.01M221.3 116.8h.01M210.2 152.7h.01M255.7 161.1h.01M223.1 145.7h.01M243.8 156.6h.01M210.8 150.7h.01M205.2 168.0h.01M234.6 184.6h.01M272.6 169.7h.01M216.6 146.1h.01M207.8 113.1h.01M236.8 98.3h.01M234.5 110.2h.01M216.7 133.1h.01M206.5 90.4h.01M270.0 159.3h.01M218.2 155.0h.01M266.3 114.4h.01M206.4 155.8h.01M231.7 156.7h.01M212.9 144.7h.01M220.9 108.7h.01M236.5 161.8h.01M220.3 124.5h.01M243.2 159.1h.01M231.3 174.8h.01M214.0 134.9h.01M207.7 131.5h.01M211.2 162.0h.01M246.6 169.3h.01M209.7 153.3h.01M203.2 108.5h.01M244.6 141.3h.01M252.2 148.1h.01M208.3 125.1h.01M240.1 160.0h.01M214.7 130.1h.01M209.3 149.0h.01M237.1 178.0h.01M210.1 151.7h.01M239.6 145.1h.01M223.3 142.3h.01M208.4 112.2h.01M249.8 186.4h.01M213.7 144.3h.01M219.4 133.3h.01M238.8 170.2h.01M256.8 149.2h.01M216.5 149.8h.01M225.4 171.6h.01M211.3 113.2h.01M205.7 161.7h.01M233.0 125.3h.01M239.3 158.4h.01M260.2 172.6h.01M222.2 165.0h.01M287.6 172.9h.01M211.9 156.1h.01M214.7 134.6h.01M231.3 189.3h.01M204.2 103.3h.01M236.7 130.5h.01M223.7 112.0h.01M227.8 168.6h.01M206.2 181.6h.01M219.8 157.9h.01M236.2 152.3h.01M240.2 143.2h.01M227.9 158.0h.01M243.2 152.3h.01M298.1 161.9h.01M222.9 180.8h.01M208.5 94.1h.01M299.1 180.0h.01M212.5 133.3h.01M259.6 134.1h.01M235.5 165.6h.01M212.7 138.9h.01M245.1 117.0h.01M286.5 165.6h.01M201.9 104.5h.01M233.1 141.1h.01M228.4 140.9h.01M271.4 144.9h.01M244.5 155.6h.01M209.1 140.5h.01M201.6 106.0h.01M237.0 143.0h.01M245.8 140.8h.01M218.7 171.2h.01M222.7 143.7h.01M210.3 110.1h.01M242.9 131.3h.01M227.1 137.7h.01M244.0 161.4h.01M220.6 157.8h.01M213.2 129.8h.01M215.6 108.6h.01M284.8 160.0h.01M260.7 130.2h.01M252.7 158.7h.01M261.3 132.4h.01M222.8 167.6h.01M226.2 141.0h.01M207.5 156.7h.01M242.8 136.3h.01M258.7 143.3h.01M219.7 165.5h.01M283.1 172.2h.01M211.7 147.3h.01M224.2 179.5h.01M230.0 167.6h.01M256.7 170.5h.01M261.9 140.5h.01M214.1 108.6h.01M250.3 161.1h.01M346.4 177.3h.01M217.0 136.2h.01M246.4 161.9h.01M223.0 150.7h.01M249.1 134.9h.01M221.7 138.1h.01M249.3 153.7h.01M214.3 151.8h.01M231.5 113.9h.01M242.6 163.2h.01M228.0 143.1h.01M216.6 162.7h.01M275.4 168.5h.01M220.2 140.7h.01M256.1 161.3h.01M222.4 131.2h.01M237.7 147.4h.01M234.3 178.5h.01M221.0 198.3h.01M228.1 123.1h.01M208.8 147.9h.01M222.8 109.1h.01M224.8 144.5h.01M228.0 163.5h.01M213.9 127.7h.01M215.5 146.2h.01M204.0 130.3h.01M254.1 171.4h.01M215.8 127.0h.01M211.0 113.4h.01M202.6 139.6h.01M216.1 99.9h.01M250.3 163.7h.01M277.2 154.7h.01M203.3 163.6h.01M274.3 191.1h.01M216.1 91.8h.01M210.5 105.1h.01M225.8 118.5h.01M223.6 184.3h.01M249.4 147.4h.01M222.9 134.2h.01M222.4 142.0h.01M227.4 138.9h.01M239.6 169.2h.01M262.3 158.2h.01M228.9 172.3h.01M241.2 157.3h.01M251.0 144.9h.01M242.6 166.8h.01M229.7 152.8h.01M214.2 148.8h.01M217.9 141.5h.01M215.1 120.3h.01M273.9 154.0h.01M205.9 124.6h.01M255.9 181.6h.01M258.3 161.2h.01M237.5 131.1h.01M218.3 162.9h.01M229.1 156.3h.01M237.6 170.0h.01M229.1 116.0h.01M205.9 142.3h.01M214.2 155.0h.01M222.4 129.4h.01M213.2 115.0h.01M234.1 137.0h.01M228.1 123.6h.01M281.8 156.6h.01M220.4 146.2h.01M223.9 154.9h.01M275.3 167.1h.01M249.6 164.2h.01M212.0 130.7h.01M245.2 153.3h.01M213.4 137.6h.01M237.6 135.8h.01M310.0 167.6h.01M223.2 176.6h.01M252.0 168.5h.01M242.2 173.9h.01M272.3 190.9h.01M218.9 140.0h.01M230.1 174.0h.01M244.2 177.6h.01M222.2 169.5h.01M218.2 121.0h.01M234.9 155.1h.01M248.0 131.3h.01M241.8 152.1h.01M214.7 149.4h.01M233.6 135.3h.01M230.8 133.5h.01M265.9 154.1h.01M216.3 162.8h.01M221.8 154.7h.01M277.6 178.8h.01M222.6 150.3h.01M213.4 137.6h.01M220.3 107.7h.01M219.5 108.9h.01M219.2 126.4h.01M272.9 141.4h.01M216.3 136.4h.01M207.7 67.9h.01M263.9 127.6h.01M232.6 88.4h.01M240.1 141.6h.01M232.8 138.5h.01M239.2 126.8h.01M243.7 146.7h.01M233.9 141.1h.01M207.3 155.2h.01M229.4 125.2h.01M213.0 136.5h.01M234.8 130.4h.01M229.7 151.8h.01M268.0 188.6h.01M213.8 129.1h.01M212.8 113.3h.01M212.2 165.4h.01M241.1 170.8h.01M211.6 144.6h.01M212.3 144.0h.01M244.9 186.5h.01M210.2 97.0h.01M206.8 111.9h.01M212.2 151.6h.01M230.0 188.1h.01M208.4 128.1h.01M228.0 100.7h.01M215.6 122.9h.01M249.8 129.0h.01M223.6 166.9h.01M283.4 156.9h.01M225.3 180.3h.01M214.2 94.1h.01M228.8 133.5h.01M223.2 194.2h.01M217.8 187.0h.01M309.4 160.8h.01M262.6 153.0h.01M254.6 159.7h.01M255.2 141.7h.01M212.7 92.4h.01M217.9 133.3h.01M210.1 174.7h.01M256.3 157.1h.01M283.3 181.6h.01M220.4 162.7h.01M226.1 138.1h.01M220.3 147.5h.01M235.5 172.1h.01M230.6 147.8h.01M234.5 166.5h.01M239.3 138.3h.01M230.7 152.7h.01M223.1 135.4h.01M263.4 160.8h.01M237.3 132.9h.01M215.0 143.6h.01M268.3 157.3h.01M226.4 159.0h.01M250.5 149.8h.01M226.5 187.0h.01M280.5 116.4h.01M280.6 171.2h.01M228.6 144.4h.01M225.0 156.5h.01M222.3 156.0h.01M239.7 141.3h.01M241.3 161.3h.01M204.6 140.8h.01M213.0 168.3h.01M267.4 173.5h.01M231.7 174.0h.01M204.1 89.9h.01M228.3 177.3h.01M215.1 163.2h.01M220.1 138.9h.01M212.4 107.0h.01M220.3 184.2h.01M211.0 170.4h.01M218.6 139.9h.01M213.8 133.1h.01M249.5 181.3h.01M221.1 187.0h.01M232.3 169.5h.01M216.6 125.6h.01M245.8 152.6h.01M231.7 131.0h.01M218.8 145.6h.01M255.3 154.7h.01M223.7 130.7h.01M312.7 169.4h.01M232.5 142.8h.01M230.8 168.2h.01M231.3 161.3h.01M264.3 147.7h.01M231.9 153.3h.01M219.9 161.6h.01M210.1 123.4h.01M281.2 151.5h.01M264.0 156.4h.01M273.5 171.6h.01M226.4 125.4h.01M210.7 78.6h.01M233.9 166.8h.01M213.0 171.9h.01M218.9 162.0h.01M262.1 173.2h.01M218.3 173.5h.01M209.6 161.8h.01M229.4 127.9h.01M205.6 114.6h.01M239.9 118.5h.01M212.4 123.3h.01M265.6 165.4h.01M208.0 111.9h.01M209.5 149.9h.01M219.1 151.7h.01M209.1 161.3h.01M224.4 116.8h.01M239.2 128.3h.01M222.7 155.9h.01M237.8 156.5h.01M230.9 147.0h.01M226.5 141.7h.01M212.5 121.2h.01M221.7 143.0h.01M252.1 145.5h.01M250.2 183.3h.01M241.0 157.1h.01M213.9 177.8h.01M261.7 122.4h.01M215.1 109.9h.01M227.8 130.4h.01M279.3 141.7h.01M204.5 85.6h.01M227.8 125.2h.01M246.6 185.0h.01M221.0 149.2h.01M204.9 181.6h.01M249.6 169.4h.01M260.6 179.1h.01M273.3 158.8h.01M210.9 130.2h.01M206.5 153.7h.01M233.5 155.0h.01M292.6 159.2h.01M222.9 148.9h.01M253.9 157.5h.01M241.1 160.2h.01M246.3 135.8h.01M220.1 137.9h.01M283.2 184.8h.01M224.8 152.3h.01M286.6 157.8h.01M216.0 162.2h.01M209.3 122.8h.01M204.6 149.1h.01M256.5 161.1h.01M232.4 150.9h.01M220.0 90.7h.01M215.2 148.2h.01M218.5 157.2h.01M264.8 143.6h.01M240.9 160.9h.01M202.5 125.5h.01M208.0 183.0h.01M206.3 128.2h.01M234.5 149.5h.01M229.8 177.1h.01M250.7 126.0h.01M218.9 149.3h.01M220.4 148.9h.01M216.3 169.5h.01M244.8 185.8h.01M209.7 149.5h.01M216.9 179.7h.01M203.9 121.1h.01M246.3 134.3h.01M207.7 149.1h.01M217.8 182.1h.01M225.8 155.6h.01M219.4 169.4h.01M202.3 125.8h.01M239.2 146.5h.01M246.1 161.0h.01M229.5 146.0h.01M219.3 118.8h.01M225.4 106.6h.01M302.3 172.8h.01M213.7 125.1h.01M211.9 144.4h.01M248.6 174.4h.01M284.9 141.3h.01M256.4 147.2h.01M227.5 143.8h.01M284.9 156.0h.01M217.8 147.1h.01M241.5 173.5h.01M204.9 92.2h.01M249.8 135.0h.01M226.7 140.7h.01M265.5 139.4h.01M201.4 99.3h.01M236.5 154.1h.01M226.2 133.0h.01M223.3 153.2h.01M232.9 134.3h.01M221.6 150.9h.01M247.2 102.5h.01M209.4 144.9h.01M238.7 139.2h.01M259.4 146.7h.01M211.6 146.2h.01M294.0 150.1h.01M226.4 148.6h.01M215.7 150.5h.01M240.9 150.9h.01M239.8 166.8h.01M235.0 122.9h.01M205.4 120.1h.01M249.0 133.0h.01M248.4 180.4h.01M214.2 135.3h.01M283.8 173.6h.01M225.4 144.3h.01M235.9 121.6h.01M206.9 129.7h.01M239.2 154.3h.01M210.1 113.4h.01M206.7 112.8h.01M230.5 106.1h.01M266.6 191.0h.01M216.1 135.2h.01M211.5 147.8h.01M260.6 172.3h.01M254.4 152.1h.01M227.2 173.8h.01M211.9 158.2h.01M209.1 142.7h.01M208.2 93.5h.01M221.4 162.0h.01M247.8 176.6h.01M221.7 191.9h.01M228.3 155.4h.01M244.9 157.0h.01M203.3 127.7h.01M252.8 182.6h.01M235.3 166.2h.01M211.5 186.3h.01M223.1 141.5h.01M207.1 167.9h.01M228.0 120.6h.01M223.4 133.7h.01M209.1 129.9h.01M237.1 142.3h.01M239.1 172.8h.01M242.8 128.8h.01M206.7 156.7h.01M221.2 99.1h.01M219.2 138.4h.01M249.8 190.5h.01M246.8 134.5h.01M238.2 107.4h.01M250.4 158.5h.01M228.9 123.1h.01M315.6 171.4h.01M222.9 160.2h.01M210.1 110.6h.01M234.2 159.0h.01M233.3 140.4h.01M259.6 177.1h.01M236.0 169.6h.01M209.6 113.0h.01M228.4 156.2h.01M229.1 156.7h.01M243.4 178.1h.01M229.7 142.9h.01M218.9 124.9h.01M230.2 158.3h.01M231.1 152.4h.01M211.7 164.7h.01M214.4 109.6h.01M229.8 161.8h.01M255.3 157.5h.01M231.5 110.2h.01M227.1 152.1h.01M238.5 183.9h.01M228.9 168.6h.01M206.8 142.4h.01M218.4 100.1h.01M260.7 151.5h.01M230.3 152.9h.01M211.0 120.6h.01M230.9 118.4h.01M225.2 163.9h.01M302.4 146.1h.01M213.2 121.4h.01M242.6 141.7h.01M243.4 147.2h.01M211.2 107.3h.01M231.0 154.2h.01M214.5 86.2h.01M220.5 142.4h.01M243.7 172.9h.01M206.5 121.7h.01M252.3 147.7h.01M277.5 145.6h.01M247.3 156.9h.01M221.9 113.6h.01M282.6 169.9h.01M236.4 146.5h.01M205.6 159.5h.01M213.0 156.7h.01M235.0 144.5h.01M230.9 162.8h.01M240.8 160.3h.01M239.0 154.6h.01M215.0 135.8h.01M220.3 125.4h.01M235.5 132.1h.01M289.7 146.8h.01M255.1 150.1h.01M266.3 166.9h.01M244.8 185.0h.01M224.9 154.0h.01M218.3 162.4h.01M209.0 174.9h.01M227.1 108.1h.01M235.3 190.0h.01M216.9 133.5h.01M205.9 121.7h.01M203.9 136.1h.01M204.5 69.3h.01M271.8 157.8h.01M278.0 172.6h.01M252.6 118.1h.01M242.8 168.1h.01M240.1 181.5h.01M208.4 157.4h.01M310.8 175.7h.01M227.2 145.4h.01M230.7 139.9h.01M220.0 180.7h.01M207.5 127.9h.01M234.4 98.6h.01M256.6 168.5h.01M239.4 153.0h.01M208.3 120.9h.01M278.7 139.6h.01M259.4 168.0h.01M207.9 156.0h.01M220.4 168.4h.01M294.6 147.4h.01M221.1 122.4h.01M221.3 196.6h.01M230.1 196.7h.01M237.1 176.9h.01M225.7 181.4h.01M252.4 145.2h.01M222.7 139.6h.01M217.5 94.2h.01M205.0 115.1h.01M233.9 145.9h.01M301.1 148.7h.01M241.7 170.0h.01M261.9 182.3h.01M235.4 148.3h.01M234.6 127.7h.01M203.3 164.6h.01M218.0 120.7h.01M222.3 124.0h.01M246.9 162.5h.01M223.7 141.2h.01M205.7 139.2h.01M204.6 130.4h.01M222.0 125.1h.01M229.4 165.8h.01M303.2 151.5h.01M209.5 117.9h.01M216.5 121.8h.01M217.3 191.1h.01M280.3 191.2h.01M221.7 127.7h.01M223.9 159.3h.01M239.7 165.3h.01M257.5 169.7h.01M228.9 178.3h.01M242.8 157.2h.01M204.9 147.8h.01M257.4 167.5h.01M246.7 142.0h.01M324.0 183.8h.01M226.7 119.9h.01M267.0 197.8h.01M251.9 102.5h.01M226.9 178.4h.01M204.4 119.1h.01M252.8 135.1h.01M228.1 146.9h.01M277.2 146.8h.01M229.3 149.7h.01M207.0 172.1h.01M230.0 139.5h.01M230.1 121.0h.01M238.9 162.1h.01M245.0 187.6h.01M227.8 160.8h.01M205.4 126.1h.01M209.0 130.3h.01M228.8 121.3h.01M229.3 134.3h.01M258.5 145.1h.01M231.2 193.8h.01M256.1 110.3h.01M233.8 147.5h.01M220.8 123.1h.01M287.6 167.4h.01M226.7 149.9h.01M226.3 144.8h.01M232.2 112.1h.01M254.7 123.7h.01M223.0 130.1h.01M233.5 103.4h.01M217.0 152.1h.01M238.8 138.5h.01M202.8 139.3h.01M216.3 112.2h.01M218.4 142.0h.01M224.2 122.0h.01M220.0 101.5h.01M254.9 195.4h.01M246.6 106.2h.01M212.2 132.3h.01M233.5 155.6h.01M271.9 192.2h.01M217.4 149.8h.01M241.2 148.5h.01M208.0 139.3h.01M226.4 102.9h.01M265.7 162.6h.01M286.3 144.4h.01M213.0 113.2h.01M262.9 116.7h.01M210.1 142.8h.01M297.4 153.1h.01M242.7 183.6h.01M226.4 172.3h.01M222.6 151.2h.01M243.9 151.6h.01M277.9 180.2h.01M245.9 160.3h.01M263.7 142.7h.01M258.6 163.7h.01M255.8 157.1h.01M305.8 178.2h.01M263.6 129.8h.01M233.1 107.3h.01M239.9 145.5h.01M208.5 138.4h.01M206.9 95.4h.01M223.5 133.3h.01M230.8 162.9h.01M223.5 177.4h.01M226.5 159.9h.01M261.6 113.2h.01M237.9 162.6h.01M205.9 60.9h.01M251.6 153.0h.01M250.6 157.1h.01M231.3 116.8h.01M236.4 154.5h.01M220.1 134.0h.01M242.3 173.1h.01M220.6 174.1h.01M228.3 163.9h.01M256.1 149.6h.01M232.9 163.2h.01M231.6 192.9h.01M277.8 151.2h.01M225.5 149.5h.01M261.5 160.7h.01M237.4 162.9h.01M222.0 105.5h.01M245.8 161.6h.01M288.1 153.5h.01M215.0 108.5h.01M211.4 112.5h.01M275.5 155.2h.01M254.4 153.4h.01M236.4 142.0h.01M208.2 115.2h.01M263.1 144.7h.01M207.9 144.9h.01M255.9 144.9h.01M225.7 136.5h.01M231.8 131.5h.01M222.7 139.4h.01M215.3 109.2h.01M222.4 139.4h.01M245.7 132.4h.01M204.0 130.1h.01M208.7 148.3h.01M249.9 172.0h.01M237.6 152.7h.01M295.1 155.5h.01M210.4 108.4h.01M213.6 141.7h.01M229.0 158.8h.01M232.8 159.5h.01M236.6 119.9h.01M235.8 146.3h.01M249.5 162.7h.01M205.3 116.0h.01M235.5 178.5h.01M219.8 140.3h.01M218.4 143.5h.01M286.2 163.5h.01M223.6 172.6h.01M267.2 138.5h.01M335.1 154.7h.01M223.5 176.7h.01M230.5 144.3h.01M228.6 131.3h.01M233.6 96.4h.01M276.8 166.2h.01M255.1 172.7h.01M233.6 148.1h.01M231.5 100.8h.01M214.9 139.1h.01M239.2 143.8h.01M210.3 95.4h.01M216.1 186.8h.01M232.5 197.5h.01M216.7 121.2h.01M208.2 118.3h.01M227.3 178.8h.01M212.6 127.8h.01M244.0 150.0h.01M234.6 143.4h.01M209.4 153.8h.01M239.2 159.6h.01M248.1 170.3h.01M234.3 147.1h.01M225.5 150.9h.01M221.2 102.6h.01M295.4 154.2h.01M233.6 184.0h.01M231.2 137.7h.01M224.0 110.4h.01M210.8 131.7h.01M220.0 116.5h.01M244.7 151.8h.01M238.0 133.6h.01M237.6 170.0h.01M232.9 129.8h.01M214.3 169.6h.01M231.3 117.4h.01M256.9 184.1h.01M229.3 196.2h.01M202.6 117.3h.01M215.8 144.8h.01M204.7 129.4h.01M213.9 130.6h.01M310.2 167.5h.01M221.2 165.4h.01M214.4 135.7h.01M206.3 126.1h.01M224.4 133.2h.01M268.2 120.4h.01M214.6 156.1h.01M240.4 148.4h.01M234.7 135.6h.01M218.3 153.5h.01M248.7 177.1h.01M221.3 157.6h.01M215.7 116.9h.01M217.0 148.5h.01M235.3 134.7h.01M295.7 174.5h.01M256.4 145.1h.01M216.4 155.8h.01M230.5 166.7h.01M214.5 137.9h.01M213.5 138.6h.01M204.8 97.7h.01M238.2 185.5h.01M218.5 129.9h.01M225.1 106.6h.01M238.2 119.0h.01M208.0 143.6h.01M210.3 151.9h.01M240.6 160.8h.01M211.7 132.0h.01M212.5 135.0h.01M255.2 146.7h.01M227.6 132.0h.01M266.2 176.3h.01M286.1 179.4h.01M273.3 179.9h.01M207.7 163.7h.01M233.8 150.3h.01M254.4 147.2h.01M237.7 92.7h.01M221.3 130.7h.01M211.5 137.9h.01M246.2 121.3h.01M207.6 150.7h.01M206.0 125.9h.01M213.3 117.6h.01M229.0 128.2h.01M267.9 149.4h.01M222.8 152.8h.01M253.8 178.5h.01M212.5 142.3h.01M219.7 157.7h.01M220.9 126.7h.01M216.0 144.1h.01M261.0 144.3h.01M207.3 169.0h.01M260.1 136.0h.01M234.8 167.7h.01M245.6 184.5h.01M214.7 169.8h.01M244.6 164.5h.01M205.2 106.8h.01M225.4 128.3h.01M235.7 175.1h.01M215.4 139.0h.01M207.7 137.3h.01M213.3 173.0h.01M221.3 168.0h.01M219.3 193.2h.01M203.5 148.7h.01M208.4 152.7h.01M233.8 169.4h.01M215.0 157.6h.01M205.6 150.4h.01M249.2 128.2h.01M223.1 152.9h.01M236.7 143.5h.01M237.6 132.3h.01M234.3 127.8h.01M214.5 125.2h.01M238.2 161.6h.01M251.3 175.3h.01M215.4 157.5h.01M210.7 147.8h.01M216.6 141.5h.01M256.2 155.7h.01M225.5 119.3h.01M269.9 159.2h.01M219.6 98.9h.01M227.9 122.0h.01M271.8 166.4h.01M279.8 145.2h.01M210.1 105.5h.01M228.1 136.6h.01M226.4 136.3h.01M211.0 173.8h.01M262.7 107.6h.01M237.0 154.7h.01M213.1 142.5h.01M209.8 111.4h.01M232.4 152.1h.01M205.4 150.7h.01M252.7 139.7h.01M219.0 167.7h.01M208.7 119.6h.01M240.9 147.0h.01M213.2 113.9h.01M224.7 174.1h.01M231.2 118.5h.01M212.0 132.4h.01M237.0 104.9h.01M265.2 168.4h.01M256.0 117.0h.01M226.2 128.9h.01M247.6 135.3h.01M210.6 153.1h.01M224.1 131.5h.01M257.9 141.2h.01M211.1 155.7h.01M231.8 174.1h.01M248.7 168.2h.01M230.3 113.1h.01M283.6 158.1h.01M220.2 120.4h.01M217.9 135.0h.01M207.5 132.4h.01M232.8 142.7h.01M230.4 156.6h.01M213.9 112.1h.01M236.8 145.1h.01M276.2 155.0h.01M218.2 176.6h.01M266.2 150.7h.01M246.0 165.7h.01M224.2 156.9h.01M203.0 106.0h.01M224.9 171.3h.01M214.2 144.4h.01M234.9 134.2h.01M217.8 113.6h.01M223.4 157.1h.01M215.0 133.7h.01M217.3 134.8h.01M237.0 174.2h.01M204.7 177.3h.01M259.9 192.2h.01M242.1 137.4h.01M204.2 129.0h.01M234.1 178.6h.01M220.1 159.0h.01M216.7 150.1h.01M223.1 153.1h.01M224.2 145.7h.01M213.3 86.4h.01M218.3 161.7h.01M256.3 151.1h.01M206.3 150.0h.01M250.5 165.5h.01M213.7 158.6h.01M238.8 154.6h.01M207.8 146.9h.01M213.5 132.2h.01M222.3 139.0h.01M203.1 148.7h.01M208.0 89.9h.01M273.4 178.8h.01M247.4 144.3h.01M252.0 108.7h.01M241.7 165.8h.01M216.8 108.6h.01M282.5 137.0h.01M305.2 161.3h.01M209.7 176.2h.01M226.6 112.2h.01M224.4 142.8h.01M225.8 158.5h.01M251.5 126.7h.01M227.3 163.1h.01M229.9 122.2h.01M227.3 159.0h.01M208.3 124.0h.01M281.6 178.0h.01M207.4 143.3h.01M221.0 166.0h.01M223.0 161.7h.01M235.9 144.5h.01M242.2 154.1h.01M203.7 126.5h.01M231.1 117.7h.01M211.2 140.6h.01M238.1 190.6h.01M232.8 154.4h.01M202.4 126.9h.01M208.2 112.6h.01M225.2 120.7h.01M242.8 130.1h.01M248.2 156.7h.01M236.3 134.4h.01M216.3 172.0h.01M233.2 118.5h.01M225.7 135.1h.01M217.4 129.4h.01M255.7 161.4h.01M229.9 145.6h.01M229.6 162.4h.01M247.7 140.0h.01M217.8 175.1h.01M225.4 122.3h.01M209.1 124.4h.01M212.5 90.7h.01M207.3 135.5h.01M209.7 138.9h.01M211.1 133.9h.01M224.2 144.1h.01M239.3 152.0h.01M216.9 169.2h.01M229.1 172.4h.01M302.7 173.1h.01M215.6 147.1h.01M221.3 172.7h.01M219.2 171.4h.01M278.6 164.2h.01M231.8 130.5h.01M206.7 138.1h.01M234.8 133.1h.01M212.5 117.2h.01M224.8 126.8h.01M244.3 160.0h.01M230.8 156.5h.01M210.9 177.5h.01M206.0 147.8h.01M215.8 130.9h.01M233.3 172.7h.01M215.6 109.8h.01M215.6 107.9h.01M226.8 154.6h.01M252.0 134.1h.01M201.8 157.8h.01M210.4 159.7h.01M207.7 143.0h.01M218.1 142.1h.01M248.5 155.9h.01M238.8 168.5h.01M229.4 101.0h.01M241.9 144.0h.01M224.4 138.1h.01M228.9 130.7h.01M280.4 156.9h.01M245.8 156.2h.01M260.8 165.8h.01M295.3 187.7h.01M208.9 101.6h.01M305.5 178.4h.01M208.9 171.5h.01M264.8 171.2h.01M223.4 183.2h.01M300.9 136.8h.01M264.0 149.0h.01M213.6 107.3h.01M241.8 118.8h.01M242.3 138.1h.01M216.2 128.7h.01M232.8 164.3h.01M216.6 143.3h.01M221.7 158.6h.01M226.0 144.6h.01M228.4 162.8h.01M210.8 108.9h.01M289.6 150.2h.01M207.6 137.3h.01M231.6 185.9h.01M216.5 126.3h.01M266.6 140.2h.01M219.3 144.5h.01M219.2 173.8h.01M286.3 154.4h.01M218.5 116.6h.01M226.8 191.1h.01M214.3 127.8h.01M239.8 189.6h.01M232.3 145.8h.01M210.8 96.8h.01M233.8 146.0h.01M217.9 130.3h.01M237.3 156.2h.01M210.1 137.3h.01M249.9 103.9h.01M254.8 126.9h.01M212.9 145.9h.01M226.0 154.6h.01M242.9 150.2h.01M207.8 82.4h.01M229.2 141.8h.01M234.2 123.0h.01M209.1 144.1h.01M213.4 166.6h.01M264.7 131.3h.01M235.9 150.4h.01M221.3 162.8h.01M210.7 152.4h.01M242.6 165.0h.01M216.9 156.8h.01M307.7 186.8h.01M234.8 121.3h.01M257.1 146.6h.01M232.1 125.2h.01M274.7 164.5h.01M235.6 140.8h.01M212.4 135.4h.01M232.9 121.0h.01M221.4 124.0h.01M231.7 139.2h.01M223.0 160.1h.01M226.6 174.1h.01M217.1 161.6h.01M220.2 158.8h.01M232.4 160.0h.01M222.5 174.1h.01M255.8 121.0h.01M248.5 146.4h.01M220.1 192.5h.01M209.5 159.8h.01M265.6 181.1h.01M219.9 137.3h.01M209.2 112.5h.01M214.6 161.2h.01M222.0 129.1h.01M267.4 161.8h.01M249.0 128.4h.01M229.9 115.3h.01M208.3 129.0h.01M220.8 126.1h.01M216.7 141.7h.01M272.6 164.6h.01M224.1 172.6h.01M318.6 165.3h.01M239.8 151.3h.01M215.0 148.7h.01M231.4 149.1h.01M213.1 143.3h.01M238.7 172.3h.01M248.6 163.0h.01M210.7 111.9h.01M255.6 158.4h.01M207.3 102.8h.01M256.4 176.7h.01M211.6 166.9h.01M290.1 160.3h.01M313.2 158.2h.01M285.0 171.5h.01M206.9 120.6h.01M299.4 151.3h.01M336.6 161.9h.01M244.5 153.4h.01M213.5 140.8h.01M255.8 186.4h.01M254.8 153.1h.01M248.8 146.3h.01M208.8 103.8h.01M239.9 177.5h.01M209.5 154.6h.01M208.0 156.4h.01M213.4 119.7h.01M229.3 171.7h.01M209.4 87.8h.01M222.3 128.4h.01M221.3 175.8h.01M322.2 170.7h.01M205.1 113.5h.01M217.7 128.6h.01M220.3 148.7h.01M246.1 168.0h.01M219.5 122.7h.01M238.5 149.6h.01M239.6 132.1h.01M265.0 148.7h.01M315.4 174.0h.01M250.9 123.3h.01M373.7 179.7h.01M228.8 136.6h.01M234.3 162.4h.01M249.5 157.0h.01M229.9 152.6h.01M288.2 172.0h.01M217.6 136.2h.01M203.5 100.6h.01M236.6 107.8h.01M235.4 116.5h.01M284.4 163.6h.01M216.2 108.0h.01M265.0 148.4h.01M213.0 97.6h.01M210.9 164.3h.01M236.7 116.2h.01M287.3 170.9h.01M246.1 127.2h.01M336.9 178.6h.01M300.9 152.2h.01M235.2 154.8h.01M220.4 188.8h.01M300.0 178.2h.01M343.9 176.9h.01M211.9 138.1h.01M333.0 196.8h.01M255.9 177.4h.01M216.4 156.8h.01M267.9 160.7h.01M215.7 136.3h.01M204.6 148.9h.01M237.6 182.5h.01M212.6 132.7h.01M208.2 142.5h.01M407.4 164.8h.01M272.6 167.2h.01M331.6 165.3h.01M316.9 179.3h.01M204.9 126.3h.01M246.5 149.6h.01M249.2 143.0h.01M395.7 184.4h.01M282.0 162.2h.01M216.9 162.5h.01M235.9 152.2h.01M205.6 119.4h.01M206.0 59.5h.01M285.4 160.5h.01M200.6 110.1h.01M209.6 134.5h.01M214.2 114.8h.01M269.0 148.8h.01M245.0 129.2h.01M228.1 138.1h.01M241.7 98.9h.01M288.2 140.4h.01M232.6 186.1h.01M207.1 128.1h.01M314.1 167.1h.01M220.4 196.5h.01M306.7 177.5h.01M219.0 153.8h.01M203.4 145.4h.01M227.2 142.9h.01M266.8 189.2h.01M229.5 129.6h.01M202.3 111.5h.01M299.4 159.5h.01M240.4 157.0h.01M248.8 151.9h.01M211.5 148.0h.01M209.3 110.9h.01M209.0 125.3h.01M214.3 93.5h.01M218.1 151.1h.01M260.5 127.4h.01M258.3 165.5h.01M201.5 130.6h.01M206.5 155.6h.01M225.3 132.9h.01M232.2 148.8h.01M211.7 124.9h.01M242.3 118.6h.01M291.1 163.2h.01M225.2 136.2h.01M220.5 121.7h.01M217.5 143.3h.01M260.3 165.2h.01M212.2 131.1h.01M219.3 130.6h.01M221.5 125.1h.01M266.0 141.1h.01M252.1 166.2h.01M252.5 144.0h.01M214.7 112.7h.01M210.5 147.1h.01M240.0 141.9h.01M209.5 149.5h.01M275.3 155.7h.01M279.9 131.0h.01M227.9 142.1h.01M259.6 173.1h.01M215.8 133.6h.01M238.6 144.6h.01M255.8 131.9h.01M211.5 166.8h.01M208.6 154.9h.01M203.2 131.3h.01M263.9 184.5h.01M242.5 126.2h.01M240.9 193.3h.01M366.3 183.2h.01M295.2 184.8h.01M282.7 170.9h.01M233.0 129.7h.01M253.7 141.3h.01M201.9 107.3h.01M238.7 136.2h.01M206.1 175.6h.01M205.7 126.5h.01M295.9 190.2h.01M230.7 158.4h.01M304.0 170.8h.01M215.0 151.8h.01M248.8 141.9h.01M219.2 162.2h.01M245.7 115.1h.01M263.9 144.6h.01M248.1 127.6h.01M207.3 118.0h.01M245.5 132.5h.01M229.8 147.6h.01M225.4 99.3h.01M263.5 175.1h.01M317.9 163.5h.01M245.1 150.9h.01M255.5 158.0h.01M336.9 170.1h.01M209.3 152.0h.01M212.6 119.9h.01M268.3 142.7h.01M204.2 128.9h.01M423.7 166.3h.01M201.7 149.0h.01M417.7 193.7h.01M344.6 180.5h.01M275.9 162.7h.01M225.4 86.9h.01M376.7 176.7h.01M267.2 137.8h.01M282.1 146.5h.01M454.8 151.6h.01M236.2 146.0h.01M223.8 129.2h.01M229.7 151.1h.01M251.7 170.0h.01M215.6 161.7h.01M221.4 162.3h.01M427.6 158.9h.01M225.4 138.5h.01M201.5 130.3h.01M353.8 174.1h.01M356.1 180.3h.01M232.3 148.2h.01M241.6 150.9h.01M262.6 143.2h.01M240.5 130.2h.01M257.3 185.6h.01M255.2 149.0h.01M218.4 108.9h.01M235.2 170.8h.01M242.3 155.5h.01M348.3 172.4h.01M209.8 112.3h.01M227.3 132.0h.01M203.7 134.8h.01M377.9 168.9h.01M209.9 113.9h.01M209.7 128.4h.01M370.2 154.3h.01M209.2 127.2h.01M215.8 162.7h.01M204.6 147.8h.01M204.4 134.0h.01M244.2 155.1h.01M223.3 129.7h.01M275.9 152.6h.01M202.7 89.4h.01M266.1 141.4h.01M219.8 107.1h.01M211.6 154.0h.01M218.2 152.4h.01M207.0 119.3h.01M205.4 130.5h.01M206.8 120.4h.01M237.0 143.2h.01M227.6 160.1h.01M205.6 93.4h.01M302.1 149.4h.01M216.5 173.5h.01M255.8 165.6h.01M203.8 129.8h.01M260.4 141.8h.01M235.2 149.8h.01M324.2 185.1h.01M213.4 121.1h.01M225.7 149.9h.01M237.0 122.4h.01M246.8 145.0h.01M366.5 163.4h.01M255.6 137.2h.01M225.7 124.5h.01M268.6 165.8h.01M274.6 140.6h.01M292.8 159.6h.01M252.6 177.5h.01M209.1 144.2h.01M218.9 150.4h.01M216.4 131.0h.01M224.4 128.5h.01M239.2 173.2h.01M322.7 161.9h.01M213.0 140.3h.01M274.2 176.1h.01M247.0 134.1h.01M208.8 151.5h.01M215.8 165.4h.01M250.1 136.7h.01M231.7 126.7h.01M274.9 169.4h.01M315.2 155.4h.01M218.8 117.9h.01M316.7 174.5h.01M223.2 96.9h.01M254.9 154.3h.01M214.4 135.0h.01M211.2 187.1h.01M325.1 163.6h.01M227.1 159.7h.01M215.1 130.7h.01M314.8 188.5h.01M223.1 116.7h.01M217.6 106.1h.01M254.7 116.1h.01M208.5 196.6h.01M241.6 137.2h.01M280.4 153.8h.01M210.9 152.4h.01M232.7 149.0h.01M216.4 108.7h.01M268.2 171.2h.01M201.2 121.7h.01M290.7 162.7h.01M200.7 117.5h.01M210.1 144.8h.01M240.6 130.2h.01M234.3 125.9h.01M200.7 153.3h.01M206.1 107.7h.01M241.9 165.4h.01M224.2 150.5h.01M208.5 110.0h.01M253.0 150.4h.01M253.6 141.2h.01M204.6 113.6h.01M318.5 161.7h.01M238.7 160.2h.01M223.5 166.0h.01M226.9 129.2h.01M257.5 138.9h.01M237.2 140.3h.01M225.3 148.7h.01M253.5 135.5h.01M270.9 157.2h.01M299.4 182.9h.01M224.9 137.5h.01M354.4 168.4h.01M220.3 123.7h.01M209.6 154.3h.01M233.9 163.7h.01M218.3 133.2h.01M225.8 154.7h.01M224.5 145.4h.01M279.2 143.3h.01M201.2 117.3h.01M212.1 95.4h.01M211.6 131.1h.01M268.8 125.6h.01M247.2 128.7h.01M224.5 84.2h.01M201.3 125.3h.01M216.5 142.0h.01M345.9 159.7h.01M227.3 156.3h.01M232.8 156.6h.01M435.2 171.0h.01M211.5 128.8h.01M285.2 181.9h.01M229.2 139.2h.01M283.0 164.2h.01M229.6 145.7h.01M225.8 139.6h.01M280.2 161.6h.01M279.2 140.6h.01M233.7 135.4h.01M217.6 144.6h.01M260.6 152.0h.01M242.2 126.7h.01M364.8 165.0h.01M233.9 118.1h.01M311.5 168.0h.01M219.8 137.6h.01M236.0 102.7h.01M245.1 150.0h.01M212.3 98.3h.01M201.2 106.2h.01M320.2 173.3h.01M247.6 178.3h.01M211.6 122.6h.01M284.4 170.4h.01M215.9 153.7h.01M208.3 169.3h.01M245.4 124.7h.01M226.8 141.2h.01M319.5 167.9h.01M268.6 148.2h.01M203.4 122.8h.01M258.6 150.8h.01M201.5 114.0h.01M296.1 166.2h.01M250.1 135.5h.01M258.4 144.4h.01M233.5 145.2h.01M272.5 128.7h.01M254.7 178.7h.01M208.0 192.9h.01M326.5 154.1h.01M266.9 147.3h.01M205.7 164.7h.01M251.1 158.7h.01M260.4 141.4h.01M236.7 173.0h.01M375.2 167.3h.01M214.0 88.1h.01M234.8 115.5h.01M270.0 156.0h.01M202.1 119.1h.01M203.4 147.5h.01M201.0 121.4h.01M267.4 160.8h.01M235.0 167.9h.01M269.4 179.0h.01M216.4 94.3h.01M251.0 148.8h.01M239.0 169.2h.01M244.3 157.5h.01M384.2 157.4h.01M208.4 96.5h.01M211.9 149.1h.01M217.9 135.0h.01M238.4 127.9h.01M406.2 176.9h.01M476.2 185.7h.01M301.8 176.9h.01M231.5 144.8h.01M222.0 159.8h.01M284.1 179.6h.01M257.8 156.9h.01M207.5 112.2h.01M208.9 119.2h.01M207.4 137.4h.01M276.3 125.2h.01M230.2 162.4h.01M305.5 165.6h.01M230.4 175.5h.01M285.5 147.3h.01M251.4 153.2h.01M214.8 173.1h.01M211.9 153.6h.01M213.9 96.3h.01M227.6 127.3h.01M318.4 166.7h.01M365.1 164.1h.01M202.2 159.2h.01M240.1 165.3h.01M266.2 178.5h.01M212.3 153.9h.01M249.0 157.9h.01M273.6 147.5h.01M341.8 162.6h.01M256.2 133.2h.01M223.7 79.8h.01M209.3 144.8h.01M225.3 143.5h.01M201.7 114.6h.01M301.8 175.0h.01M205.6 136.8h.01M295.5 156.3h.01M217.0 160.8h.01M324.6 164.5h.01M250.8 126.2h.01M240.0 171.6h.01M266.8 195.9h.01M226.8 141.8h.01M240.4 170.1h.01M252.5 147.8h.01M283.8 166.3h.01M240.3 141.5h.01M205.5 105.6h.01M229.2 126.0h.01M227.8 152.3h.01M292.8 178.7h.01M201.1 176.0h.01M238.7 194.2h.01M239.8 164.9h.01M295.2 160.9h.01M214.3 152.5h.01M295.1 170.9h.01M224.8 180.4h.01M247.3 183.8h.01M205.9 167.3h.01M273.5 146.4h.01M216.5 181.0h.01M277.7 146.9h.01M248.6 169.1h.01M221.0 129.6h.01M238.3 143.1h.01M239.9 132.6h.01M200.8 98.7h.01M279.4 171.8h.01M239.0 169.5h.01M373.0 178.6h.01M248.6 167.0h.01M201.4 112.2h.01M248.7 153.8h.01M276.9 158.5h.01M213.7 130.5h.01M202.7 138.4h.01M234.4 123.6h.01M233.2 188.3h.01M210.8 132.6h.01M202.3 117.5h.01M220.7 161.4h.01M263.2 168.3h.01M234.9 128.3h.01M247.7 158.2h.01M233.4 190.4h.01M254.7 179.8h.01M388.2 163.6h.01M202.5 146.9h.01M211.6 109.1h.01M233.5 117.5h.01M226.1 150.2h.01M225.8 132.9h.01M251.6 169.2h.01M215.2 149.1h.01M202.2 142.8h.01M235.6 135.7h.01M226.8 175.4h.01M217.4 145.1h.01M251.0 151.7h.01M224.5 133.0h.01M293.4 194.2h.01M233.4 187.7h.01M237.7 168.3h.01M213.1 144.2h.01M277.6 157.0h.01M410.3 172.4h.01M274.6 124.3h.01M326.4 164.1h.01M283.0 151.3h.01M212.8 149.5h.01M223.4 126.5h.01M228.2 130.8h.01M219.6 127.2h.01M399.1 175.6h.01M219.8 128.5h.01M397.2 158.2h.01M218.2 161.8h.01M213.0 184.3h.01M224.5 126.2h.01M260.7 141.5h.01M250.5 157.4h.01M303.7 171.6h.01M249.3 96.9h.01M231.6 158.1h.01M206.6 159.5h.01M241.7 160.6h.01M280.8 152.1h.01M275.5 169.2h.01M206.7 142.5h.01M300.5 160.7h.01M212.6 148.3h.01M203.0 127.3h.01M226.0 146.9h.01M235.8 172.2h.01M264.4 155.0h.01M353.8 186.9h.01M209.2 116.5h.01M216.3 161.0h.01M248.4 157.2h.01M233.0 188.6h.01M206.0 142.9h.01M235.8 176.3h.01M234.2 115.7h.01M207.3 137.6h.01M216.5 130.8h.01M287.6 188.8h.01M349.4 187.7h.01M209.4 140.6h.01M236.3 178.8h.01M369.6 162.4h.01M240.6 159.0h.01M203.3 127.3h.01M331.9 169.4h.01M237.7 152.9h.01M252.9 138.3h.01M229.4 162.4h.01M318.5 165.2h.01M228.5 119.8h.01M204.6 127.7h.01M234.3 146.0h.01M223.3 152.9h.01M214.9 139.9h.01M216.6 127.6h.01M295.6 167.4h.01M218.4 183.3h.01M247.3 148.9h.01M452.2 176.2h.01M285.7 154.3h.01M234.5 147.9h.01M212.5 104.3h.01M203.3 155.2h.01M230.5 169.4h.01M224.4 130.5h.01M225.0 169.5h.01M251.9 147.0h.01M205.4 133.5h.01M301.8 191.9h.01M201.2 113.2h.01M234.6 119.0h.01M219.3 138.6h.01M202.0 157.3h.01M202.0 111.7h.01M214.9 162.4h.01M226.3 149.1h.01M210.0 129.1h.01M389.6 182.9h.01M264.9 187.1h.01M208.4 139.3h.01M201.9 129.4h.01M387.0 183.6h.01M209.6 153.4h.01M238.4 134.3h.01M317.8 170.3h.01M261.1 164.4h.01M211.8 151.3h.01M248.7 149.3h.01M202.5 127.5h.01M240.9 154.3h.01M226.1 178.0h.01M222.0 153.5h.01M234.6 162.6h.01M238.7 148.7h.01M338.2 162.1h.01M209.3 116.9h.01M210.7 124.9h.01M225.0 143.5h.01M265.5 162.6h.01M212.8 133.0h.01M219.6 155.0h.01M215.4 148.5h.01M232.1 166.8h.01M222.5 146.3h.01M258.5 156.6h.01M209.5 96.2h.01M262.6 146.1h.01M297.7 169.8h.01M201.8 112.0h.01M411.9 179.6h.01M272.9 141.6h.01M205.4 117.0h.01M210.7 70.2h.01M202.9 152.0h.01M248.5 154.2h.01M238.6 152.6h.01M239.6 144.2h.01M204.6 117.5h.01M209.9 157.5h.01M208.9 151.6h.01M309.7 163.7h.01M367.8 164.6h.01M249.9 175.1h.01M325.4 187.3h.01M272.6 139.3h.01M251.0 136.9h.01M214.2 117.7h.01M208.2 155.8h.01M248.7 156.7h.01M277.8 156.1h.01M219.1 133.3h.01M245.4 154.4h.01M226.4 147.6h.01M258.5 136.4h.01M228.7 156.9h.01M201.0 138.1h.01M204.6 141.0h.01M210.5 148.5h.01M202.9 127.5h.01M283.6 164.4h.01M247.5 161.2h.01M208.6 105.9h.01M204.7 126.4h.01M232.2 155.7h.01M332.4 159.8h.01M207.5 146.6h.01M217.9 143.1h.01M258.4 156.9h.01M269.2 167.6h.01M230.0 156.1h.01M218.6 141.4h.01M202.1 157.5h.01M203.7 139.0h.01M258.8 150.7h.01M228.4 141.1h.01M226.3 139.9h.01M291.3 129.3h.01M214.0 127.0h.01M207.7 138.7h.01M213.5 142.8h.01M217.8 143.0h.01M287.5 155.7h.01M368.7 177.8h.01M226.8 113.3h.01M303.8 180.2h.01M215.9 128.9h.01M232.2 137.6h.01M203.1 153.1h.01M329.9 165.8h.01M340.6 169.0h.01M244.7 164.5h.01M269.3 118.5h.01M235.5 134.4h.01M254.7 160.4h.01M203.9 141.0h.01M340.6 182.3h.01M241.7 145.8h.01M207.2 134.2h.01M320.5 185.2h.01M204.5 152.9h.01M229.6 163.1h.01M218.0 152.4h.01M406.3 178.4h.01M254.5 166.7h.01M207.8 122.8h.01M207.9 116.4h.01M201.9 127.1h.01M208.9 180.4h.01M233.1 152.0h.01M217.2 70.5h.01M225.2 101.4h.01M222.1 72.2h.01M228.0 86.0h.01M314.8 101.7h.01M214.1 90.8h.01M213.6 42.8h.01M276.3 91.3h.01M238.2 97.1h.01M293.8 100.4h.01M216.5 93.8h.01M204.2 32.8h.01M206.3 90.3h.01M211.7 94.9h.01M223.9 74.2h.01M369.0 96.6h.01M225.5 76.4h.01M227.6 95.8h.01M221.5 97.9h.01M206.7 96.9h.01M307.5 54.5h.01M272.3 95.0h.01M221.5 79.2h.01M217.9 61.3h.01M204.4 84.3h.01M302.9 73.7h.01M208.1 78.7h.01M239.0 86.1h.01M224.1 58.6h.01M214.8 87.6h.01M235.3 98.4h.01M210.4 74.4h.01M222.3 29.7h.01M225.0 99.3h.01M244.1 98.6h.01M218.5 91.4h.01M224.6 81.2h.01M208.7 18.3h.01M205.7 97.8h.01M235.2 76.7h.01M249.4 93.8h.01M249.2 100.2h.01M217.5 69.5h.01M203.9 51.6h.01M296.4 85.8h.01M218.8 93.8h.01M214.4 99.5h.01M214.7 94.3h.01M227.2 96.2h.01M223.3 100.1h.01M233.6 77.8h.01M317.9 98.0h.01M260.7 71.8h.01M235.2 99.0h.01M212.7 98.2h.01M283.7 44.3h.01M218.6 79.7h.01M293.4 91.2h.01M251.1 74.2h.01M307.5 52.3h.01M219.6 100.7h.01M218.9 100.1h.01M231.5 63.7h.01M225.4 95.2h.01M204.8 83.3h.01M303.7 82.6h.01M267.0 78.5h.01M258.2 49.7h.01M255.2 58.2h.01M221.2 97.9h.01M226.6 83.2h.01M211.2 48.0h.01M223.8 88.1h.01M286.7 88.9h.01M219.7 65.1h.01M223.6 43.3h.01M206.5 92.9h.01M229.0 93.0h.01M223.4 82.2h.01M224.6 76.7h.01M225.9 71.2h.01M257.7 85.7h.01M211.1 101.4h.01M245.0 100.7h.01M214.4 73.2h.01M257.2 100.5h.01M268.0 97.5h.01M270.4 90.1h.01M257.8 97.9h.01M243.3 55.6h.01M254.7 95.2h.01M205.5 82.7h.01M237.6 65.1h.01M276.2 33.9h.01M238.5 101.6h.01M248.2 100.7h.01M256.8 78.0h.01M237.9 57.0h.01M300.9 59.2h.01M222.4 101.1h.01M333.9 96.9h.01M215.0 100.3h.01M231.1 94.0h.01M359.8 47.1h.01M215.7 66.5h.01M238.8 95.1h.01M209.1 96.1h.01M212.4 93.8h.01M220.0 81.7h.01M242.4 76.9h.01M234.9 101.4h.01M232.3 96.6h.01M229.5 61.3h.01M220.8 100.4h.01M212.8 85.9h.01M204.5 101.7h.01M255.5 98.2h.01M228.6 67.0h.01M216.0 94.6h.01M242.4 77.0h.01M269.5 67.2h.01M247.3 91.4h.01M285.8 83.4h.01M261.0 100.1h.01M239.3 100.8h.01M208.4 78.5h.01M234.5 78.6h.01M215.4 98.6h.01M229.3 91.3h.01M219.0 19.5h.01M209.6 87.8h.01M304.1 60.7h.01M222.7 101.8h.01M235.2 98.4h.01M223.3 80.1h.01M227.3 69.8h.01M225.0 90.7h.01M218.0 98.2h.01M287.6 88.0h.01M271.9 93.3h.01M205.7 69.7h.01M267.3 73.0h.01M256.0 77.4h.01M207.7 99.9h.01M227.7 79.4h.01M225.7 43.7h.01M254.4 93.7h.01M227.5 99.6h.01M222.1 17.9h.01M295.9 93.0h.01M213.2 61.2h.01M207.9 58.2h.01M222.7 98.8h.01M212.8 78.0h.01M219.5 94.4h.01M254.3 83.0h.01M231.9 95.8h.01M207.4 79.0h.01M230.1 87.6h.01M226.0 93.7h.01M254.3 96.0h.01M207.8 97.0h.01M206.2 80.3h.01M208.8 96.0h.01M221.3 85.8h.01M215.4 92.1h.01M244.0 98.2h.01M204.8 31.7h.01M216.4 75.1h.01M211.3 61.8h.01M213.6 33.9h.01M224.2 100.3h.01M221.2 72.7h.01M229.6 62.8h.01M204.6 92.5h.01M248.1 98.6h.01M207.4 77.0h.01M204.4 56.2h.01M225.1 99.1h.01M239.4 95.7h.01M204.5 35.1h.01M209.5 99.0h.01M255.9 99.6h.01M210.5 80.2h.01M297.4 46.8h.01M309.5 41.7h.01M234.5 100.7h.01M207.3 26.9h.01M217.2 80.0h.01M263.9 88.6h.01M237.0 97.8h.01M229.7 88.4h.01M215.8 68.5h.01M229.8 37.8h.01M227.7 81.0h.01M218.8 65.8h.01M208.6 88.5h.01M267.2 89.9h.01M209.4 92.4h.01M244.3 95.1h.01M255.3 43.0h.01M227.4 55.2h.01M311.3 89.6h.01M210.8 97.2h.01M250.2 99.6h.01M285.2 98.9h.01M212.8 93.1h.01M213.8 75.2h.01M206.1 100.8h.01M242.7 90.2h.01M206.5 30.3h.01M286.5 56.8h.01M224.5 97.6h.01M224.8 64.2h.01M320.2 88.6h.01M208.1 60.5h.01M229.2 93.0h.01M250.5 88.2h.01M261.2 100.3h.01M210.8 71.9h.01M239.3 98.6h.01M230.5 94.7h.01M211.5 75.3h.01M211.6 80.9h.01M215.3 36.4h.01M209.0 74.2h.01M210.6 57.2h.01M218.2 91.1h.01M255.0 78.8h.01M221.6 99.3h.01M239.9 91.8h.01M290.4 48.6h.01M205.1 89.6h.01M254.5 91.2h.01M227.6 75.2h.01M205.5 67.9h.01M231.7 76.4h.01M209.7 86.9h.01M269.5 75.1h.01M234.7 78.1h.01M348.9 99.0h.01M222.3 99.5h.01M218.4 51.4h.01M224.8 96.5h.01M246.8 88.2h.01M210.6 86.9h.01M206.7 64.5h.01M266.4 86.0h.01M220.5 97.8h.01M221.8 80.2h.01M225.8 89.2h.01M284.6 91.3h.01M210.8 73.8h.01M227.7 62.9h.01M224.7 92.8h.01" stroke="#000" stroke-opacity=".7" stroke-width=".56" stroke-linecap="square" fill="none"/>
<rect x="200.50" y="15.30" width="15.90" height="54.10" fill="#ff0000" fill-opacity="0.2"/>
<rect x="200.50" y="69.40" width="15.90" height="24.40" fill="#ffc000" fill-opacity="0.2"/>
<rect x="200.50" y="93.80" width="15.90" height="23.90" fill="#7f7f7f" fill-opacity="0.2"/>
<rect x="200.50" y="117.70" width="15.90" height="133.80" fill="#00b050" fill-opacity="0.2"/>
<rect x="216.40" y="93.80" width="276.10" height="23.90" fill="#7030a0" fill-opacity="0.2"/>
<rect x="216.40" y="117.70" width="276.10" height="133.80" fill="#0070c0" fill-opacity="0.2"/>
<path d="M232.94 15.30V251.50M265.39 15.30V251.50M297.83 15.30V251.50M330.28 15.30V251.50M362.72 15.30V251.50M395.17 15.30V251.50M427.61 15.30V251.50M460.06 15.30V251.50" stroke="#000" stroke-opacity=".11" stroke-width=".6" fill="none"/>
<g stroke="#f02525" stroke-width="1.05" stroke-dasharray="3.6 2.13" fill="none">
<path d="M216.40 15.30V251.50"/>
<path d="M201.20 93.80H490.50"/>
<path d="M201.20 117.70H490.50"/>
<path d="M201.20 69.40H216.40"/>
</g>
<path d="M200.50 15.30H492.50V251.50" stroke="#8a8a8a" stroke-width=".7" fill="none"/>
<path d="M200.50 15.30V251.50H492.50" stroke="#707070" stroke-width="1" fill="none"/>
<path d="M200.50 251.50v2.6M232.94 251.50v2.6M265.39 251.50v2.6M297.83 251.50v2.6M330.28 251.50v2.6M362.72 251.50v2.6M395.17 251.50v2.6M427.61 251.50v2.6M460.06 251.50v2.6M492.50 251.50v2.6M216.72 251.50v1.5M249.17 251.50v1.5M281.61 251.50v1.5M314.06 251.50v1.5M346.50 251.50v1.5M378.94 251.50v1.5M411.39 251.50v1.5M443.83 251.50v1.5M476.28 251.50v1.5M200.50 251.50h-3M200.50 227.80h-1.9M200.50 213.93h-1.9M200.50 204.10h-1.9M200.50 196.47h-1.9M200.50 190.23h-1.9M200.50 184.96h-1.9M200.50 180.40h-1.9M200.50 176.37h-1.9M200.50 172.77h-3M200.50 149.07h-1.9M200.50 135.20h-1.9M200.50 125.36h-1.9M200.50 117.73h-1.9M200.50 111.50h-1.9M200.50 106.23h-1.9M200.50 101.66h-1.9M200.50 97.64h-1.9M200.50 94.03h-3M200.50 70.33h-1.9M200.50 56.47h-1.9M200.50 46.63h-1.9M200.50 39.00h-1.9M200.50 32.77h-1.9M200.50 27.50h-1.9M200.50 22.93h-1.9M200.50 18.90h-1.9M200.50 15.30h-3" stroke="#777" stroke-width=".8" fill="none"/>
<g font-size="8.7" fill="#000" stroke="#000" stroke-width=".1">
<text x="200.50" y="264.6" text-anchor="middle">0</text>
<text x="232.94" y="264.6" text-anchor="middle">1</text>
<text x="265.39" y="264.6" text-anchor="middle">2</text>
<text x="297.83" y="264.6" text-anchor="middle">3</text>
<text x="330.28" y="264.6" text-anchor="middle">4</text>
<text x="362.72" y="264.6" text-anchor="middle">5</text>
<text x="395.17" y="264.6" text-anchor="middle">6</text>
<text x="427.61" y="264.6" text-anchor="middle">7</text>
<text x="460.06" y="264.6" text-anchor="middle">8</text>
<text x="492.50" y="264.6" text-anchor="middle">9</text>
<text x="193.2" y="18.30" text-anchor="end">100<tspan dx="0.7">000</tspan></text>
<text x="193.2" y="97.03" text-anchor="end">10<tspan dx="0.7">000</tspan></text>
<text x="193.2" y="175.77" text-anchor="end">1000</text>
<text x="193.2" y="254.50" text-anchor="end">100</text>
</g>
<text x="315.8" y="281.2" font-size="10" fill="#111" textLength="85.5" lengthAdjust="spacingAndGlyphs">Wind speed / km h<tspan font-size="6" dy="-3.6">-1</tspan></text>
<text x="201.5" y="10.6" font-size="7.5" fill="#111" textLength="293" lengthAdjust="spacingAndGlyphs">Evaluation based on 15-minute mean concentrations for the entire measurement period</text>
<g font-size="9.8" fill="#ff0000" text-anchor="middle">
<text x="81.0" y="32.2">Low wind speed</text>
<text x="81.0" y="44.4">High UFP concentration</text>
<text x="81.0" y="56.4">5.0% of data</text>
</g>
<g font-size="9.8" fill="#ffc000" text-anchor="middle">
<text x="74.0" y="72.2">Low wind speed</text>
<text x="74.0" y="84.4">Increased UFP concentration</text>
<text x="74.0" y="96.4">11.4% of data</text>
</g>
<g font-size="9.8" fill="#7f7f7f" text-anchor="middle">
<text x="78.0" y="122.8">Low wind speed</text>
<text x="78.0" y="135.0">Elevated UFP concentration</text>
<text x="78.0" y="147.1">28.3% of data</text>
</g>
<g font-size="9.8" fill="#00b050" text-anchor="middle">
<text x="72.5" y="221.1">Low wind speed</text>
<text x="72.5" y="233.3">Background UFP concentration</text>
<text x="72.5" y="245.3">32.8% of data</text>
</g>
<g font-size="9.8" fill="#111" text-anchor="middle">
<text x="407.0" y="27.0">Increased wind speed</text>
<text x="407.0" y="39.2">High and increased UFP concentration</text>
<text x="407.0" y="51.2">0.7% of data</text>
</g>
<g font-size="9.8" fill="#7030a0" text-anchor="end">
<text x="486.0" y="90.2">Increased wind speed</text>
<text x="486.0" y="102.3">Elevated UFP concentration</text>
<text x="486.0" y="114.5">3.3% of data</text>
</g>
<g font-size="9.8" fill="#0070c0" text-anchor="end">
<text x="490.0" y="222.5">Increased wind speed</text>
<text x="490.0" y="234.7">Background UFP concentration</text>
<text x="490.0" y="246.7">18.5% of data</text>
</g>
<path d="M141.00 40.30L195.30 40.30" stroke="#ff0000" stroke-width="1.30" fill="none"/>
<path d="M200.00 40.30L194.80 42.90L194.80 37.70Z" fill="#ff0000"/>
<path d="M142.50 81.20L195.30 81.20" stroke="#ffc000" stroke-width="1.30" fill="none"/>
<path d="M200.00 81.20L194.80 83.80L194.80 78.60Z" fill="#ffc000"/>
<path d="M144.50 131.10L191.63 113.30" stroke="#7f7f7f" stroke-width="1.45" fill="none"/>
<path d="M196.40 111.50L192.15 116.10L190.17 110.86Z" fill="#7f7f7f"/>
<path d="M146.00 231.50L202.30 231.50" stroke="#00b050" stroke-width="1.30" fill="none"/>
<path d="M207.00 231.50L201.80 234.10L201.80 228.90Z" fill="#00b050"/>
<text transform="translate(164.6 220.3) rotate(-90)" font-size="10.4" fill="#111" stroke="#fff" stroke-width="2.2" paint-order="stroke" stroke-linejoin="round" textLength="163.5" lengthAdjust="spacingAndGlyphs">UFP number concentration / cm<tspan font-size="6.2" dy="-3.8">-3</tspan></text>
</svg></body></html>
